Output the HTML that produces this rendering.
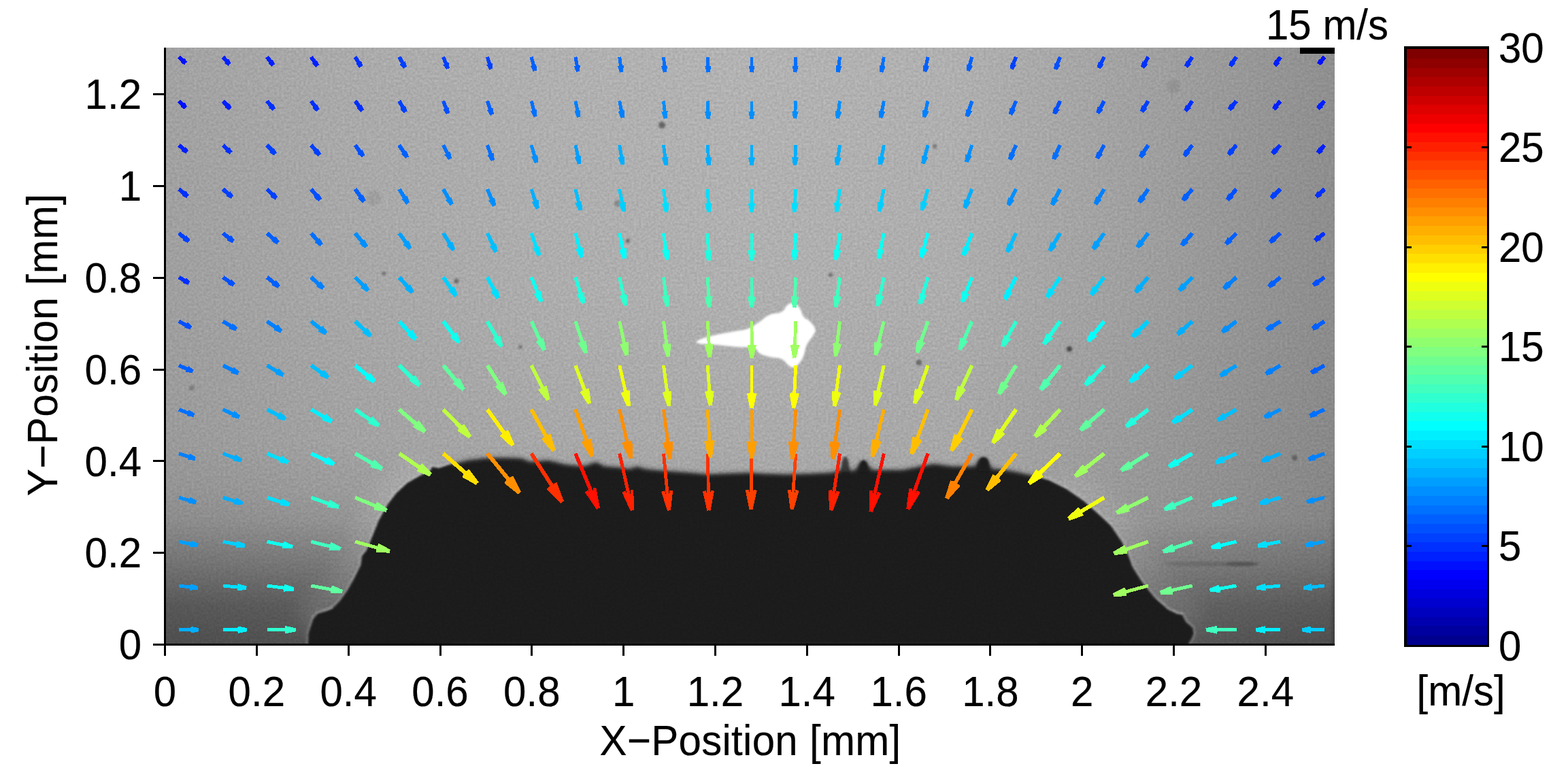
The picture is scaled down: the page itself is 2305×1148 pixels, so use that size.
<!DOCTYPE html>
<html lang="en"><head><meta charset="utf-8"><title>Velocity field</title>
<style>html,body{margin:0;padding:0;background:#fff}svg{display:block}text{font-family:"Liberation Sans",sans-serif;font-size:60px;fill:#000;stroke:#000;stroke-width:0.2px}</style>
</head><body>
<svg width="2305" height="1148" viewBox="0 0 2305 1148" role="img" aria-label="Velocity field over droplet image">
<defs>
<clipPath id="imclip"><rect x="244" y="70" width="1718" height="876"/></clipPath>
<filter id="blur3" x="-5%" y="-5%" width="110%" height="110%"><feGaussianBlur stdDeviation="3.2"/></filter>
<filter id="blur1" x="-50%" y="-100%" width="200%" height="300%"><feGaussianBlur stdDeviation="1.6"/></filter>
<filter id="blurS" x="-5%" y="-5%" width="110%" height="110%"><feGaussianBlur stdDeviation="1.5"/></filter>
<filter id="blur6" x="-50%" y="-50%" width="200%" height="200%"><feGaussianBlur stdDeviation="3"/></filter>
<filter id="grain" x="0" y="0" width="100%" height="100%" color-interpolation-filters="sRGB"><feTurbulence type="fractalNoise" baseFrequency="0.28" numOctaves="2" seed="11" result="t"/><feColorMatrix in="t" type="matrix" values="1 0 0 0 0  1 0 0 0 0  1 0 0 0 0  0 0 0 0 1" result="n"/><feComposite in="SourceGraphic" in2="n" operator="arithmetic" k1="0.2" k2="0.9" k3="0" k4="0"/></filter>
<linearGradient id="gH" x1="0" y1="0" x2="1" y2="0"><stop offset="0.0000" stop-color="#a2a2a2"/><stop offset="0.1490" stop-color="#aaaaaa"/><stop offset="0.3236" stop-color="#b0b0b0"/><stop offset="0.4983" stop-color="#b3b3b3"/><stop offset="0.6729" stop-color="#b0b0b0"/><stop offset="0.8475" stop-color="#a0a0a0"/><stop offset="1.0000" stop-color="#8f8f8f"/></linearGradient>
<linearGradient id="gV" x1="0" y1="0" x2="0" y2="1"><stop offset="0.0000" stop-color="#000" stop-opacity="0.000"/><stop offset="0.4224" stop-color="#000" stop-opacity="0.020"/><stop offset="0.6621" stop-color="#000" stop-opacity="0.050"/><stop offset="0.7420" stop-color="#000" stop-opacity="0.090"/><stop offset="0.7934" stop-color="#000" stop-opacity="0.140"/><stop offset="0.8676" stop-color="#000" stop-opacity="0.300"/><stop offset="0.9361" stop-color="#000" stop-opacity="0.460"/><stop offset="1.0000" stop-color="#000" stop-opacity="0.520"/></linearGradient>
<linearGradient id="gVR" x1="0" y1="0" x2="0" y2="1"><stop offset="0.0000" stop-color="#000" stop-opacity="0.000"/><stop offset="0.4224" stop-color="#000" stop-opacity="0.020"/><stop offset="0.6621" stop-color="#000" stop-opacity="0.050"/><stop offset="0.7420" stop-color="#000" stop-opacity="0.065"/><stop offset="0.7934" stop-color="#000" stop-opacity="0.080"/><stop offset="0.8676" stop-color="#000" stop-opacity="0.220"/><stop offset="0.9361" stop-color="#000" stop-opacity="0.380"/><stop offset="1.0000" stop-color="#000" stop-opacity="0.450"/></linearGradient>
</defs>
<rect x="0" y="0" width="2305" height="1148" fill="#fff"/>
<g clip-path="url(#imclip)">
<g filter="url(#grain)">
<rect x="244" y="70" width="1718" height="876" fill="url(#gH)"/>
<rect x="244" y="70" width="856" height="876" fill="url(#gV)"/>
<rect x="1100" y="70" width="862" height="876" fill="url(#gVR)"/>
<circle cx="973" cy="184" r="5" fill="#000" opacity="0.42" filter="url(#blur1)"/>
<circle cx="908" cy="299" r="5" fill="#000" opacity="0.22" filter="url(#blur1)"/>
<circle cx="564" cy="402" r="3" fill="#000" opacity="0.3" filter="url(#blur1)"/>
<circle cx="671" cy="413" r="3.5" fill="#000" opacity="0.38" filter="url(#blur1)"/>
<circle cx="282" cy="570" r="4" fill="#000" opacity="0.2" filter="url(#blur1)"/>
<circle cx="923" cy="354" r="3" fill="#000" opacity="0.4" filter="url(#blur1)"/>
<circle cx="1374" cy="215" r="3" fill="#000" opacity="0.35" filter="url(#blur1)"/>
<circle cx="1572" cy="513" r="4" fill="#000" opacity="0.55" filter="url(#blur1)"/>
<circle cx="1351" cy="533" r="4" fill="#000" opacity="0.4" filter="url(#blur1)"/>
<circle cx="1221" cy="404" r="3" fill="#000" opacity="0.35" filter="url(#blur1)"/>
<circle cx="1725" cy="127" r="10" fill="#000" opacity="0.07" filter="url(#blur1)"/>
<circle cx="549" cy="291" r="11" fill="#000" opacity="0.06" filter="url(#blur1)"/>
<circle cx="765" cy="510" r="3" fill="#000" opacity="0.3" filter="url(#blur1)"/>
<circle cx="1903" cy="673" r="4" fill="#000" opacity="0.3" filter="url(#blur1)"/>
<ellipse cx="1780" cy="829" rx="70" ry="3.5" fill="#000" opacity="0.12" filter="url(#blur1)"/>
<ellipse cx="1826" cy="829" rx="24" ry="3.5" fill="#000" opacity="0.18" filter="url(#blur1)"/>
<linearGradient id="gE" x1="0" y1="0" x2="0" y2="1"><stop offset="0" stop-color="#000" stop-opacity="0"/><stop offset="0.45" stop-color="#000" stop-opacity="0.16"/><stop offset="1" stop-color="#000" stop-opacity="0.2"/></linearGradient>
<rect x="1957.5" y="680" width="8" height="270" fill="url(#gE)" filter="url(#blur1)"/>
<clipPath id="cTop"><rect x="665" y="60" width="860" height="900"/></clipPath>
<clipPath id="cBot"><path d="M244,60 H665 V960 H244 Z M1525,60 H1962 V960 H1525 Z"/></clipPath>
<filter id="blurW" x="-60%" y="-60%" width="220%" height="220%"><feGaussianBlur stdDeviation="14"/></filter>
<path d="M610,705 L570,742 L547,791 L531,830 L510,870 L470,900" fill="none" stroke="#fff" stroke-width="60" stroke-linecap="round" opacity="0.10" filter="url(#blurW)"/>
<path d="M1580,728 L1620,760 L1649,796 L1665,833 L1696,877 L1735,902" fill="none" stroke="#fff" stroke-width="60" stroke-linecap="round" opacity="0.08" filter="url(#blurW)"/>
<path d="M453.0,950.0 L453.6,931.0 L461.4,907.3 L466.6,901.3 L478.4,898.2 L488.8,894.3 L499.3,883.8 L509.7,869.5 L520.2,851.2 L530.6,830.3 L532.0,817.2 L538.5,809.4 L546.3,791.1 L556.8,765.0 L569.8,741.4 L582.9,724.5 L598.6,710.1 L616.9,699.6 L632.5,691.8 L635.1,686.6 L645.6,687.9 L661.3,682.7 L687.4,676.1 L713.5,673.0 L739.6,672.2 L765.8,673.0 L780.0,678.6 L806.0,676.0 L832.0,682.5 L858.0,685.0 L876.0,678.6 L889.0,685.0 L910.0,686.4 L926.0,689.0 L936.0,685.0 L949.0,689.0 L975.0,691.6 L1014.0,694.2 L1040.0,696.8 L1066.0,695.5 L1105.0,694.2 L1118.0,695.5 L1157.0,696.8 L1196.0,695.5 L1222.0,694.2 L1236.0,691.0 L1239.0,678.0 L1242.0,672.0 L1246.0,678.0 L1249.0,691.0 L1256.0,691.6 L1264.0,680.0 L1269.0,677.3 L1275.0,681.0 L1282.0,690.3 L1327.0,690.3 L1353.0,685.0 L1373.0,681.2 L1399.0,685.0 L1433.0,685.0 L1438.0,676.0 L1446.0,672.0 L1454.0,680.0 L1459.0,689.0 L1469.0,689.0 L1490.0,692.4 L1516.0,698.0 L1542.0,706.0 L1568.0,719.0 L1594.0,737.0 L1620.0,760.6 L1633.0,772.8 L1649.0,796.3 L1659.0,817.2 L1664.5,833.0 L1677.6,853.8 L1696.0,877.3 L1716.8,895.6 L1729.8,902.0 L1737.7,903.4 L1743.0,913.9 L1753.3,923.0 L1754.6,932.0 L1750.7,940.0 L1745.0,950.0 Z" fill="none" stroke="#fff" stroke-width="7" opacity="0.17" filter="url(#blurS)"/>
<g clip-path="url(#cTop)"><path d="M453.0,950.0 L453.6,931.0 L461.4,907.3 L466.6,901.3 L478.4,898.2 L488.8,894.3 L499.3,883.8 L509.7,869.5 L520.2,851.2 L530.6,830.3 L532.0,817.2 L538.5,809.4 L546.3,791.1 L556.8,765.0 L569.8,741.4 L582.9,724.5 L598.6,710.1 L616.9,699.6 L632.5,691.8 L635.1,686.6 L645.6,687.9 L661.3,682.7 L687.4,676.1 L713.5,673.0 L739.6,672.2 L765.8,673.0 L780.0,678.6 L806.0,676.0 L832.0,682.5 L858.0,685.0 L876.0,678.6 L889.0,685.0 L910.0,686.4 L926.0,689.0 L936.0,685.0 L949.0,689.0 L975.0,691.6 L1014.0,694.2 L1040.0,696.8 L1066.0,695.5 L1105.0,694.2 L1118.0,695.5 L1157.0,696.8 L1196.0,695.5 L1222.0,694.2 L1236.0,691.0 L1239.0,678.0 L1242.0,672.0 L1246.0,678.0 L1249.0,691.0 L1256.0,691.6 L1264.0,680.0 L1269.0,677.3 L1275.0,681.0 L1282.0,690.3 L1327.0,690.3 L1353.0,685.0 L1373.0,681.2 L1399.0,685.0 L1433.0,685.0 L1438.0,676.0 L1446.0,672.0 L1454.0,680.0 L1459.0,689.0 L1469.0,689.0 L1490.0,692.4 L1516.0,698.0 L1542.0,706.0 L1568.0,719.0 L1594.0,737.0 L1620.0,760.6 L1633.0,772.8 L1649.0,796.3 L1659.0,817.2 L1664.5,833.0 L1677.6,853.8 L1696.0,877.3 L1716.8,895.6 L1729.8,902.0 L1737.7,903.4 L1743.0,913.9 L1753.3,923.0 L1754.6,932.0 L1750.7,940.0 L1745.0,950.0 Z" fill="#1a1a1a" filter="url(#blur3)"/></g>
<g clip-path="url(#cBot)"><path d="M453.0,950.0 L453.6,931.0 L461.4,907.3 L466.6,901.3 L478.4,898.2 L488.8,894.3 L499.3,883.8 L509.7,869.5 L520.2,851.2 L530.6,830.3 L532.0,817.2 L538.5,809.4 L546.3,791.1 L556.8,765.0 L569.8,741.4 L582.9,724.5 L598.6,710.1 L616.9,699.6 L632.5,691.8 L635.1,686.6 L645.6,687.9 L661.3,682.7 L687.4,676.1 L713.5,673.0 L739.6,672.2 L765.8,673.0 L780.0,678.6 L806.0,676.0 L832.0,682.5 L858.0,685.0 L876.0,678.6 L889.0,685.0 L910.0,686.4 L926.0,689.0 L936.0,685.0 L949.0,689.0 L975.0,691.6 L1014.0,694.2 L1040.0,696.8 L1066.0,695.5 L1105.0,694.2 L1118.0,695.5 L1157.0,696.8 L1196.0,695.5 L1222.0,694.2 L1236.0,691.0 L1239.0,678.0 L1242.0,672.0 L1246.0,678.0 L1249.0,691.0 L1256.0,691.6 L1264.0,680.0 L1269.0,677.3 L1275.0,681.0 L1282.0,690.3 L1327.0,690.3 L1353.0,685.0 L1373.0,681.2 L1399.0,685.0 L1433.0,685.0 L1438.0,676.0 L1446.0,672.0 L1454.0,680.0 L1459.0,689.0 L1469.0,689.0 L1490.0,692.4 L1516.0,698.0 L1542.0,706.0 L1568.0,719.0 L1594.0,737.0 L1620.0,760.6 L1633.0,772.8 L1649.0,796.3 L1659.0,817.2 L1664.5,833.0 L1677.6,853.8 L1696.0,877.3 L1716.8,895.6 L1729.8,902.0 L1737.7,903.4 L1743.0,913.9 L1753.3,923.0 L1754.6,932.0 L1750.7,940.0 L1745.0,950.0 Z" fill="#1a1a1a" filter="url(#blurS)"/></g>
<path d="M1438.5,692 L1439,678 Q1440,672.5 1446,672 Q1452,672.5 1453,678 L1453.5,692 Z" fill="#1a1a1a" filter="url(#blur1)"/>
<path d="M1264,693 L1264.5,682 Q1265.5,677 1269.5,676.5 Q1273.5,677 1274.5,682 L1275,693 Z" fill="#1a1a1a" filter="url(#blur1)"/>
<path d="M1238.5,693 L1239,677 Q1240,671.5 1242.5,671 Q1245.5,671.5 1246,677 L1246.5,693 Z" fill="#3a3a3a" opacity="0.85" filter="url(#blur1)"/>
<path d="M460,909 L467,901 L478,897.5 L489,893.5" fill="none" stroke="#fff" stroke-width="2" opacity="0.28" filter="url(#blur1)"/>
<path d="M1700,879 L1717,894.5 L1730,901 L1739,902.5" fill="none" stroke="#fff" stroke-width="2" opacity="0.25" filter="url(#blur1)"/>
</g>
<path d="M1026.7,501.0 C1031.5,498.3 1032.6,497.8 1047.1,494.2 C1061.6,490.6 1067.2,490.1 1081.1,487.4 C1095.0,484.7 1090.1,487.3 1099.2,484.0 C1108.3,480.7 1106.6,480.4 1115.1,475.0 C1123.6,469.6 1121.8,467.8 1130.9,463.6 C1140.0,459.4 1141.8,463.0 1149.1,459.1 C1156.4,455.2 1153.3,452.2 1158.1,448.9 C1162.9,445.6 1162.7,445.4 1167.2,446.6 C1171.7,447.8 1171.5,448.3 1175.1,453.4 C1178.7,458.5 1176.9,460.8 1180.8,465.9 C1184.7,471.0 1185.3,467.9 1189.8,472.7 C1194.3,477.5 1196.5,478.6 1197.7,484.0 C1198.9,489.4 1197.7,487.0 1194.4,493.1 C1191.1,499.2 1188.9,498.9 1185.3,506.7 C1181.7,514.5 1183.8,515.2 1180.8,522.5 C1177.8,529.8 1177.9,529.4 1174.0,533.9 C1170.1,538.4 1170.2,539.2 1166.0,539.5 C1161.8,539.8 1162.6,538.3 1158.1,535.0 C1153.6,531.7 1156.4,530.1 1149.1,527.1 C1141.8,524.1 1139.4,525.8 1130.9,523.7 C1122.4,521.6 1123.3,522.4 1117.3,519.1 C1111.3,515.8 1118.0,513.9 1108.3,511.2 C1098.6,508.5 1097.4,510.4 1081.1,508.9 C1064.8,507.4 1061.0,506.7 1047.1,505.5 C1033.2,504.3 1034.4,505.6 1029.0,504.4 C1023.6,503.2 1021.9,503.7 1026.7,501.0 Z" fill="#fff" stroke="#fff" stroke-width="1.5" stroke-linejoin="round" filter="url(#blur1)"/>
</g>
<g stroke="none" fill-rule="nonzero" shape-rendering="crispEdges">
<path fill="#00afff" d="M263.0,928.1L291.9,928.1L291.9,923.3L263.0,923.3ZM280.8,930.6L292.4,928.2L291.4,923.3L279.8,925.7ZM279.8,925.7L291.4,928.2L292.4,923.3L280.8,920.8Z"/>
<path fill="#00efff" d="M327.8,928.1L363.0,928.1L363.0,923.3L327.8,923.3ZM349.9,931.0L363.5,928.2L362.4,923.3L348.9,926.1ZM348.9,925.3L362.4,928.2L363.5,923.3L349.9,920.4Z"/>
<path fill="#30ffcf" d="M392.5,928.1L434.7,928.1L434.7,923.3L392.5,923.3ZM419.4,931.5L435.2,928.2L434.2,923.3L418.4,926.6ZM418.4,924.8L434.2,928.2L435.2,923.3L419.4,920.0Z"/>
<path fill="#40ffbf" d="M1817.5,923.3L1772.9,923.3L1772.9,928.1L1817.5,928.1ZM1788.9,919.8L1772.4,923.3L1773.4,928.2L1789.9,924.7ZM1789.9,926.7L1773.4,923.3L1772.4,928.2L1788.9,931.6Z"/>
<path fill="#00efff" d="M1882.2,923.3L1846.4,923.3L1846.4,928.1L1882.2,928.1ZM1859.7,920.4L1845.8,923.3L1846.9,928.2L1860.7,925.3ZM1860.7,926.2L1846.9,923.3L1845.8,928.2L1859.7,931.1Z"/>
<path fill="#00cfff" d="M1947.0,923.3L1914.3,923.3L1914.3,928.1L1947.0,928.1ZM1926.6,920.6L1913.8,923.3L1914.8,928.2L1927.6,925.5ZM1927.6,926.0L1914.8,923.3L1913.8,928.2L1926.6,930.8Z"/>
<path fill="#009fff" d="M262.7,863.4L290.5,866.8L291.1,861.9L263.3,858.5ZM279.5,867.7L291.0,866.8L290.6,861.9L279.1,862.9ZM279.0,863.1L289.9,866.8L291.6,861.9L280.7,858.1Z"/>
<path fill="#00dfff" d="M327.5,863.4L362.0,866.8L362.5,862.0L328.0,858.5ZM348.9,868.3L362.5,866.8L362.0,862.0L348.3,863.4ZM348.4,862.7L361.4,866.9L363.0,861.9L349.9,857.8Z"/>
<path fill="#10ffef" d="M392.2,863.4L431.5,868.5L432.2,863.7L392.9,858.5ZM416.8,869.7L432.0,868.5L431.7,863.7L416.4,864.9ZM416.5,863.5L431.0,868.6L432.7,863.6L418.3,858.6Z"/>
<path fill="#60ff9f" d="M456.9,863.4L502.8,872.0L503.7,867.2L457.8,858.5ZM485.7,872.4L503.3,872.0L503.2,867.2L485.6,867.6ZM486.0,865.3L502.2,872.1L504.3,867.1L488.0,860.4Z"/>
<path fill="#9fff60" d="M1687.3,858.5L1636.2,872.3L1637.5,877.2L1688.6,863.4ZM1653.0,863.4L1635.6,872.3L1638.1,877.3L1655.6,868.4ZM1656.3,871.2L1636.7,872.4L1637.0,877.2L1656.5,876.1Z"/>
<path fill="#70ff8f" d="M1752.2,858.5L1705.2,868.9L1706.3,873.8L1753.3,863.4ZM1721.1,861.4L1704.6,868.8L1706.9,873.8L1723.3,866.4ZM1723.8,868.7L1705.7,868.9L1705.8,873.7L1723.8,873.5Z"/>
<path fill="#10ffef" d="M1817.1,858.5L1778.1,865.4L1779.0,870.3L1817.9,863.4ZM1791.7,859.6L1777.5,865.3L1779.5,870.3L1793.7,864.6ZM1793.9,865.9L1778.6,865.4L1778.5,870.2L1793.7,870.7Z"/>
<path fill="#00dfff" d="M1882.0,858.5L1847.2,862.0L1847.7,866.8L1882.5,863.4ZM1859.8,857.8L1846.7,861.9L1848.2,866.9L1861.4,862.7ZM1861.4,863.5L1847.7,862.0L1847.2,866.8L1860.9,868.3Z"/>
<path fill="#00bfff" d="M1946.8,858.5L1916.2,861.9L1916.7,866.8L1947.3,863.4ZM1927.4,858.0L1915.6,861.9L1917.2,866.8L1929.1,862.9ZM1929.1,863.1L1916.7,862.0L1916.2,866.8L1928.6,868.0Z"/>
<path fill="#009fff" d="M262.5,798.6L290.2,804.0L291.2,799.1L263.5,793.7ZM279.1,804.1L290.7,804.0L290.6,799.2L279.0,799.3ZM278.9,799.5L289.6,804.0L291.7,799.1L281.0,794.5Z"/>
<path fill="#00cfff" d="M327.3,798.6L359.2,804.7L360.1,799.8L328.2,793.7ZM346.7,804.9L359.7,804.7L359.6,799.9L346.6,800.1ZM346.6,799.8L358.6,804.8L360.7,799.8L348.7,794.8Z"/>
<path fill="#10ffef" d="M392.0,798.6L429.5,806.5L430.6,801.6L393.1,793.7ZM415.2,806.4L430.0,806.5L430.0,801.7L415.2,801.6ZM415.3,800.6L428.9,806.5L431.1,801.6L417.5,795.6Z"/>
<path fill="#40ffbf" d="M456.7,798.6L499.8,809.3L501.0,804.4L457.9,793.7ZM483.5,808.7L500.3,809.3L500.5,804.5L483.7,803.9ZM484.0,802.0L499.2,809.4L501.6,804.4L486.5,797.0Z"/>
<path fill="#9fff60" d="M521.4,798.6L572.2,812.8L573.5,807.9L522.8,793.7ZM553.2,811.5L572.7,812.8L573.0,807.9L553.5,806.7ZM554.2,803.8L571.6,812.8L574.1,807.9L556.8,798.9Z"/>
<path fill="#9fff60" d="M1687.1,793.7L1636.7,811.3L1638.4,816.3L1688.8,798.7ZM1653.0,801.1L1636.1,811.3L1639.1,816.2L1655.9,806.0ZM1656.8,808.8L1637.3,811.4L1637.9,816.2L1657.5,813.7Z"/>
<path fill="#50ffaf" d="M1751.8,793.7L1709.1,808.5L1710.9,813.5L1753.6,798.7ZM1723.2,799.7L1708.5,808.5L1711.5,813.5L1726.1,804.6ZM1726.7,806.4L1709.7,808.6L1710.3,813.4L1727.3,811.2Z"/>
<path fill="#00ffff" d="M1816.9,793.7L1780.1,802.6L1781.3,807.5L1818.1,798.6ZM1792.8,796.2L1779.5,802.6L1781.9,807.5L1795.2,801.2ZM1795.4,802.2L1780.6,802.7L1780.8,807.5L1795.5,807.0Z"/>
<path fill="#00dfff" d="M1881.8,793.7L1848.8,799.9L1849.7,804.7L1882.7,798.6ZM1860.6,794.7L1848.3,799.8L1850.3,804.8L1862.7,799.7ZM1862.7,800.2L1849.3,799.9L1849.2,804.7L1862.6,805.0Z"/>
<path fill="#009fff" d="M1946.6,793.7L1918.5,799.1L1919.5,804.0L1947.5,798.6ZM1928.8,794.5L1917.9,799.1L1920.0,804.1L1930.9,799.5ZM1930.8,799.4L1919.0,799.2L1918.9,804.0L1930.7,804.2Z"/>
<path fill="#008fff" d="M262.3,733.9L287.4,740.8L288.8,735.9L263.7,728.9ZM277.0,740.1L287.9,740.8L288.2,735.9L277.3,735.3ZM277.1,735.8L286.8,740.8L289.4,735.9L279.6,730.8Z"/>
<path fill="#00afff" d="M327.0,733.9L355.9,742.5L357.4,737.6L328.5,728.9ZM344.2,741.4L356.4,742.5L356.8,737.6L344.6,736.6ZM344.5,736.7L355.3,742.5L358.0,737.6L347.2,731.7Z"/>
<path fill="#00dfff" d="M391.8,733.9L424.9,744.3L426.4,739.4L393.3,728.9ZM411.7,742.9L425.4,744.3L425.9,739.5L412.2,738.1ZM412.3,737.6L424.3,744.3L427.0,739.4L415.1,732.6Z"/>
<path fill="#30ffcf" d="M456.4,733.9L497.0,748.0L498.7,743.0L458.2,728.9ZM481.3,745.8L497.6,747.9L498.2,743.1L481.9,741.0ZM482.4,739.5L496.4,747.9L499.4,743.0L485.3,734.6Z"/>
<path fill="#80ff80" d="M521.1,733.9L567.2,752.9L569.2,747.9L523.1,728.9ZM549.5,749.4L567.8,752.8L568.7,747.9L550.4,744.5ZM551.2,742.3L566.6,752.8L569.9,748.0L554.5,737.5Z"/>
<path fill="#efff10" d="M1621.7,728.9L1569.4,760.3L1572.3,765.3L1624.6,733.9ZM1585.1,745.5L1568.8,760.6L1572.9,765.0L1589.2,749.9ZM1591.0,753.0L1570.0,760.3L1571.7,765.3L1592.7,758.0Z"/>
<path fill="#8fff70" d="M1686.7,728.9L1640.3,751.7L1642.7,756.6L1689.2,733.9ZM1654.8,740.0L1639.7,751.8L1643.3,756.5L1658.5,744.7ZM1659.5,747.0L1640.9,751.7L1642.1,756.6L1660.7,751.9Z"/>
<path fill="#40ffbf" d="M1751.6,728.9L1710.7,746.5L1712.9,751.4L1753.8,733.9ZM1723.9,736.9L1710.1,746.6L1713.5,751.3L1727.3,741.6ZM1727.9,743.2L1711.3,746.5L1712.3,751.4L1728.9,748.1Z"/>
<path fill="#00ffff" d="M1816.7,728.9L1781.4,740.1L1783.0,745.1L1818.3,733.9ZM1793.4,733.0L1780.8,740.1L1783.6,745.1L1796.2,738.0ZM1796.4,738.7L1782.0,740.2L1782.5,745.0L1796.9,743.6Z"/>
<path fill="#00bfff" d="M1881.6,728.9L1851.6,737.3L1853.0,742.2L1882.9,733.9ZM1862.1,731.5L1851.0,737.3L1853.6,742.3L1864.7,736.5ZM1864.7,736.5L1852.1,737.4L1852.4,742.2L1865.0,741.4Z"/>
<path fill="#008fff" d="M1946.4,728.9L1920.2,735.6L1921.5,740.5L1947.6,733.9ZM1929.7,730.6L1919.6,735.6L1922.1,740.5L1932.2,735.6ZM1932.0,735.2L1920.8,735.7L1921.0,740.5L1932.2,740.0Z"/>
<path fill="#0080ff" d="M262.2,669.1L286.1,677.0L287.7,672.0L263.8,664.1ZM276.0,675.7L286.6,676.9L287.2,672.1L276.6,670.9ZM276.3,671.6L285.5,677.0L288.3,672.0L279.1,666.7Z"/>
<path fill="#00afff" d="M326.8,669.1L353.8,679.3L355.6,674.3L328.7,664.1ZM342.6,677.4L354.3,679.3L355.1,674.4L343.4,672.6ZM343.2,672.9L353.1,679.3L356.3,674.4L346.3,668.0Z"/>
<path fill="#00dfff" d="M391.5,669.1L422.7,682.2L424.8,677.2L393.6,664.1ZM410.0,679.6L423.2,682.1L424.2,677.2L411.0,674.7ZM411.0,674.5L422.0,682.1L425.4,677.3L414.3,669.6Z"/>
<path fill="#00ffff" d="M456.1,669.1L490.2,685.0L492.5,680.0L458.5,664.1ZM476.5,681.6L490.7,685.0L491.9,680.1L477.6,676.7ZM477.8,676.1L489.5,684.9L493.1,680.2L481.4,671.4Z"/>
<path fill="#50ffaf" d="M520.7,669.1L560.1,691.8L562.9,686.9L523.5,664.2ZM544.3,686.5L560.7,691.8L562.3,686.8L546.0,681.5ZM546.7,680.1L559.5,691.6L563.5,687.1L550.7,675.6Z"/>
<path fill="#afff50" d="M585.2,669.0L631.2,700.4L634.5,695.6L588.5,664.2ZM612.9,692.7L631.8,700.5L633.9,695.5L614.9,687.7ZM616.5,685.3L630.7,700.1L635.0,695.9L620.8,681.1Z"/>
<path fill="#ffdf00" d="M649.6,668.9L699.4,712.7L703.4,708.2L653.6,664.4ZM679.2,701.2L700.0,713.0L702.8,708.0L682.0,696.2ZM684.7,693.1L699.0,712.3L703.8,708.7L689.5,689.6Z"/>
<path fill="#ff8f00" d="M714.1,668.5L761.4,726.3L766.0,722.5L718.7,664.7ZM741.1,710.1L761.9,726.7L765.6,722.1L744.9,705.4ZM749.0,702.1L761.3,725.7L766.2,723.1L754.0,699.5Z"/>
<path fill="#ff3000" d="M778.7,668.2L824.0,739.3L828.9,736.2L783.6,665.1ZM803.6,718.6L824.3,739.8L828.6,735.6L807.9,714.4ZM813.5,710.9L824.0,738.7L829.0,736.8L818.5,709.0Z"/>
<path fill="#ff1000" d="M843.4,667.7L877.0,748.3L882.0,746.2L848.4,665.6ZM859.8,723.6L877.1,748.9L881.9,745.6L864.6,720.3ZM871.4,717.6L877.1,747.7L882.0,746.8L876.2,716.7Z"/>
<path fill="#ff2000" d="M908.3,667.2L927.0,750.7L931.9,749.6L913.1,666.1ZM914.5,723.9L926.9,751.3L931.9,749.0L919.4,721.6ZM926.6,720.1L927.0,750.2L931.8,750.1L931.4,720.0Z"/>
<path fill="#ff3000" d="M973.1,666.9L981.1,750.5L985.9,750.0L977.9,666.4ZM972.2,722.8L981.0,751.0L985.9,749.5L977.1,721.2ZM984.4,720.6L981.1,750.0L985.9,750.5L989.2,721.1Z"/>
<path fill="#ff3000" d="M1037.8,666.7L1039.6,750.3L1044.4,750.2L1042.6,666.6ZM1032.9,722.1L1039.5,750.8L1044.4,749.7L1037.8,721.0ZM1045.0,720.8L1039.5,749.8L1044.4,750.7L1049.9,721.7Z"/>
<path fill="#ff4000" d="M1102.6,666.6L1101.6,748.5L1106.4,748.5L1107.4,666.7ZM1095.9,720.6L1101.5,749.0L1106.4,748.0L1100.8,719.7ZM1107.8,719.7L1101.5,748.0L1106.4,749.1L1112.7,720.8Z"/>
<path fill="#ff4000" d="M1167.4,666.5L1161.8,748.3L1166.6,748.7L1172.2,666.8ZM1157.8,720.2L1161.8,748.8L1166.6,748.2L1162.6,719.5ZM1169.6,719.9L1161.7,747.8L1166.7,749.2L1174.5,721.3Z"/>
<path fill="#ff2000" d="M1232.1,666.3L1219.3,749.8L1224.1,750.6L1237.0,667.0ZM1217.7,720.6L1219.3,750.3L1224.1,750.1L1222.5,720.4ZM1229.7,721.4L1219.2,749.3L1224.2,751.2L1234.7,723.3Z"/>
<path fill="#ff1000" d="M1296.9,666.1L1277.4,751.4L1282.3,752.5L1301.8,667.2ZM1278.0,721.2L1277.5,751.9L1282.3,752.0L1282.8,721.3ZM1290.2,722.9L1277.4,750.8L1282.4,753.1L1295.2,725.2Z"/>
<path fill="#ff1000" d="M1361.6,665.7L1332.1,747.5L1337.1,749.2L1366.6,667.5ZM1336.4,717.8L1332.2,748.0L1337.1,748.7L1341.3,718.5ZM1348.2,720.9L1332.2,746.8L1337.1,749.9L1353.1,723.9Z"/>
<path fill="#ff8000" d="M1426.4,665.2L1389.1,731.1L1394.0,733.9L1431.3,668.0ZM1397.2,706.1L1389.0,731.7L1394.0,733.3L1402.2,707.7ZM1407.1,710.4L1389.3,730.6L1393.8,734.5L1411.6,714.3Z"/>
<path fill="#ffbf00" d="M1491.3,664.8L1448.5,718.4L1453.1,722.1L1496.0,668.5ZM1459.4,697.0L1448.3,719.0L1453.3,721.5L1464.4,699.5ZM1467.9,702.3L1448.9,718.0L1452.7,722.6L1471.7,706.9Z"/>
<path fill="#ffff00" d="M1556.3,664.5L1510.7,708.5L1514.8,712.8L1560.5,668.8ZM1523.2,690.0L1510.3,709.0L1515.2,712.3L1528.1,693.3ZM1530.7,696.0L1511.2,708.2L1514.3,713.1L1533.7,700.9Z"/>
<path fill="#9fff60" d="M1621.3,664.3L1578.8,697.9L1582.5,702.5L1625.0,669.0ZM1591.2,682.9L1578.4,698.3L1582.9,702.1L1595.7,686.8ZM1597.3,688.8L1579.4,697.7L1581.9,702.7L1599.8,693.8Z"/>
<path fill="#60ff9f" d="M1686.4,664.2L1647.0,689.1L1650.0,694.0L1689.5,669.1ZM1659.0,677.2L1646.4,689.4L1650.6,693.7L1663.2,681.5ZM1664.0,682.9L1647.6,689.1L1649.4,694.0L1665.9,687.9Z"/>
<path fill="#10ffef" d="M1751.3,664.2L1716.9,683.7L1719.7,688.6L1754.1,669.1ZM1727.8,673.8L1716.4,683.9L1720.3,688.4L1731.8,678.3ZM1732.1,679.0L1717.5,683.7L1719.1,688.6L1733.7,684.0Z"/>
<path fill="#00cfff" d="M1816.4,664.1L1786.3,677.6L1788.5,682.6L1818.6,669.1ZM1796.3,670.0L1785.7,677.7L1789.1,682.5L1799.8,674.8ZM1799.7,674.9L1786.9,677.7L1787.9,682.6L1800.8,679.8Z"/>
<path fill="#00afff" d="M1881.2,664.1L1854.3,675.4L1856.4,680.4L1883.3,669.1ZM1863.5,668.7L1853.7,675.5L1857.0,680.3L1866.9,673.5ZM1866.6,673.2L1854.9,675.5L1855.8,680.4L1867.6,678.1Z"/>
<path fill="#0080ff" d="M1946.1,664.1L1922.9,673.1L1924.9,678.1L1948.0,669.1ZM1931.2,667.4L1922.3,673.1L1925.5,678.0L1934.3,672.3ZM1933.9,671.4L1923.5,673.1L1924.3,678.0L1934.7,676.3Z"/>
<path fill="#0070ff" d="M262.0,604.4L284.0,613.1L286.0,608.1L264.0,599.4ZM274.5,611.3L284.6,613.0L285.4,608.2L275.4,606.4ZM274.9,607.4L283.4,613.0L286.6,608.2L278.1,602.6Z"/>
<path fill="#008fff" d="M326.6,604.4L350.5,615.7L352.9,610.7L329.0,599.4ZM340.3,613.1L351.1,615.7L352.3,610.8L341.5,608.2ZM341.1,608.9L349.9,615.6L353.5,610.9L344.7,604.2Z"/>
<path fill="#00bfff" d="M391.2,604.3L418.3,618.5L420.9,613.5L393.8,599.4ZM407.0,615.1L418.9,618.5L420.3,613.5L408.4,610.2ZM408.1,610.4L417.7,618.3L421.5,613.7L411.9,605.8Z"/>
<path fill="#00efff" d="M455.9,604.3L486.2,622.1L489.0,617.1L458.8,599.4ZM473.6,617.7L486.8,622.1L488.4,617.1L475.3,612.7ZM475.3,612.5L485.6,621.8L489.6,617.4L479.4,608.1Z"/>
<path fill="#30ffcf" d="M520.4,604.3L555.1,628.2L558.5,623.4L523.7,599.5ZM540.9,622.1L555.8,628.3L557.8,623.3L543.0,617.1ZM543.5,616.2L554.6,627.9L559.0,623.7L547.9,612.0Z"/>
<path fill="#80ff80" d="M584.9,604.1L622.8,636.8L626.7,632.3L588.8,599.6ZM607.1,628.0L623.4,637.0L626.2,632.1L609.8,623.1ZM611.1,621.5L622.4,636.4L627.1,632.8L615.8,617.9Z"/>
<path fill="#bfff40" d="M649.5,604.0L688.8,644.3L693.1,640.1L653.8,599.8ZM672.1,633.1L689.3,644.6L692.6,639.8L675.4,628.3ZM677.4,626.3L688.5,643.8L693.4,640.7L682.3,623.2Z"/>
<path fill="#ffef00" d="M714.0,603.6L751.6,656.2L756.4,652.8L718.8,600.2ZM734.8,640.9L752.0,656.7L756.0,652.3L738.8,636.4ZM742.1,634.2L751.5,655.6L756.5,653.4L747.1,632.0Z"/>
<path fill="#ffbf00" d="M778.7,603.2L811.8,663.9L816.8,661.2L783.6,600.5ZM795.9,645.6L812.1,664.5L816.6,660.6L800.5,641.7ZM804.7,639.5L811.9,663.3L816.8,661.8L809.6,638.0Z"/>
<path fill="#ff9f00" d="M843.4,602.8L868.4,671.6L873.3,669.8L848.4,601.0ZM854.7,650.0L868.4,672.2L873.3,669.2L859.6,647.0ZM864.8,645.2L868.4,671.0L873.3,670.3L869.6,644.5Z"/>
<path fill="#ff8f00" d="M908.2,602.4L925.2,674.5L930.1,673.3L913.2,601.3ZM914.0,651.2L925.2,675.1L930.2,672.7L919.0,648.9ZM924.6,647.6L925.3,674.0L930.1,673.8L929.4,647.5Z"/>
<path fill="#ff8f00" d="M973.1,602.2L982.8,675.3L987.6,674.7L977.9,601.5ZM974.0,651.1L982.7,675.9L987.7,674.1L978.9,649.3ZM984.8,648.6L982.8,674.8L987.6,675.2L989.6,649.0Z"/>
<path fill="#ffaf00" d="M1037.8,602.0L1042.0,672.7L1046.8,672.4L1042.6,601.7ZM1035.3,648.8L1042.0,673.3L1046.9,671.9L1040.2,647.4ZM1045.7,647.1L1042.0,672.2L1046.8,672.9L1050.6,647.9Z"/>
<path fill="#ff9f00" d="M1102.6,601.9L1102.6,674.0L1107.4,674.0L1107.4,601.9ZM1097.3,649.3L1102.6,674.5L1107.5,673.5L1102.2,648.3ZM1107.9,648.3L1102.6,673.5L1107.5,674.5L1112.7,649.3Z"/>
<path fill="#ff8f00" d="M1167.4,601.7L1162.5,674.9L1167.3,675.2L1172.2,602.0ZM1158.8,649.5L1162.5,675.4L1167.3,674.7L1163.7,648.8ZM1169.5,649.1L1162.4,674.3L1167.4,675.7L1174.4,650.5Z"/>
<path fill="#ff8f00" d="M1232.1,601.5L1221.7,674.7L1226.6,675.3L1237.0,602.2ZM1220.0,648.9L1221.7,675.2L1226.5,674.8L1224.8,648.6ZM1230.6,649.3L1221.6,674.1L1226.6,675.9L1235.6,651.2Z"/>
<path fill="#ffaf00" d="M1296.9,601.3L1279.9,670.9L1284.8,672.1L1301.8,602.5ZM1280.8,645.8L1279.9,671.4L1284.7,671.5L1285.6,645.9ZM1290.9,647.2L1279.8,670.3L1284.8,672.7L1295.9,649.5Z"/>
<path fill="#ffbf00" d="M1361.6,600.9L1337.4,666.3L1342.4,668.1L1366.6,602.8ZM1341.1,642.1L1337.4,666.8L1342.3,667.6L1346.0,642.8ZM1350.7,644.5L1337.4,665.7L1342.3,668.7L1355.6,647.6Z"/>
<path fill="#ffcf00" d="M1426.4,600.6L1396.0,661.3L1400.9,663.8L1431.3,603.1ZM1402.2,638.3L1396.0,661.9L1400.9,663.2L1407.1,639.6ZM1411.3,641.6L1396.1,660.7L1400.8,664.4L1416.0,645.3Z"/>
<path fill="#dfff20" d="M1491.2,600.2L1457.1,649.3L1461.9,652.7L1496.0,603.5ZM1465.5,629.8L1457.0,649.9L1462.0,652.0L1470.5,632.0ZM1473.3,633.8L1457.4,648.8L1461.5,653.2L1477.4,638.2Z"/>
<path fill="#afff50" d="M1556.2,599.8L1519.3,640.0L1523.7,644.1L1560.6,603.9ZM1529.3,623.3L1519.0,640.6L1523.9,643.5L1534.2,626.2ZM1536.1,627.9L1519.8,639.6L1523.2,644.4L1539.5,632.7Z"/>
<path fill="#60ff9f" d="M1621.2,599.6L1586.4,630.0L1590.3,634.5L1625.1,604.1ZM1596.5,616.6L1586.0,630.5L1590.7,634.1L1601.2,620.1ZM1602.2,621.3L1586.9,629.8L1589.7,634.8L1604.9,626.2Z"/>
<path fill="#20ffdf" d="M1686.1,599.5L1653.9,624.5L1657.5,629.2L1689.8,604.2ZM1663.6,613.0L1653.4,625.0L1658.0,628.8L1668.1,616.9ZM1668.6,617.5L1654.5,624.4L1656.9,629.4L1671.0,622.5Z"/>
<path fill="#00dfff" d="M1751.1,599.4L1722.2,619.0L1725.5,623.8L1754.3,604.3ZM1731.3,609.4L1721.7,619.3L1726.0,623.5L1735.6,613.6ZM1735.6,613.7L1722.8,618.9L1724.9,623.9L1737.6,618.7Z"/>
<path fill="#00bfff" d="M1816.0,599.4L1788.6,615.4L1791.5,620.3L1818.9,604.3ZM1797.5,607.1L1788.1,615.6L1792.1,620.1L1801.6,611.5ZM1801.4,611.3L1789.3,615.4L1790.9,620.3L1803.0,616.3Z"/>
<path fill="#008fff" d="M1881.0,599.4L1857.8,610.9L1860.3,615.8L1883.5,604.4ZM1865.8,604.3L1857.2,611.0L1860.9,615.7L1869.4,608.9ZM1868.9,608.2L1858.4,610.9L1859.7,615.8L1870.2,613.1Z"/>
<path fill="#0070ff" d="M1945.9,599.4L1924.7,609.2L1927.0,614.2L1948.2,604.4ZM1932.1,603.3L1924.1,609.3L1927.6,614.0L1935.7,608.0ZM1935.1,607.0L1925.3,609.2L1926.4,614.1L1936.2,611.9Z"/>
<path fill="#0060ff" d="M261.9,539.6L282.0,548.6L284.3,543.6L264.1,534.6ZM273.2,546.5L282.6,548.5L283.7,543.6L274.2,541.6ZM273.6,542.8L281.4,548.5L284.9,543.7L277.0,538.0Z"/>
<path fill="#0080ff" d="M326.5,539.6L348.9,551.2L351.5,546.2L329.1,534.6ZM339.2,548.3L349.5,551.2L350.9,546.3L340.6,543.4ZM340.1,544.3L348.3,551.0L352.1,546.4L343.8,539.7Z"/>
<path fill="#009fff" d="M391.1,539.5L414.8,553.8L417.7,548.9L394.0,534.6ZM404.5,550.1L415.4,553.9L417.1,548.9L406.3,545.1ZM405.8,545.8L414.2,553.6L418.3,549.2L409.9,541.4Z"/>
<path fill="#00bfff" d="M455.6,539.5L480.7,557.2L484.1,552.5L459.0,534.7ZM469.9,552.4L481.3,557.4L483.5,552.4L472.1,547.4ZM471.7,547.8L480.2,556.9L484.6,552.8L476.1,543.7Z"/>
<path fill="#00ffff" d="M520.2,539.4L548.7,563.3L552.5,558.8L524.0,534.8ZM536.4,556.7L549.2,563.5L551.9,558.6L539.1,551.7ZM539.3,551.4L548.2,562.9L552.9,559.2L543.9,547.8Z"/>
<path fill="#30ffcf" d="M584.8,539.2L614.9,568.7L619.1,564.4L588.9,534.9ZM601.8,560.3L615.4,569.0L618.5,564.1L604.9,555.4ZM605.6,554.8L614.6,568.1L619.4,564.9L610.4,551.5Z"/>
<path fill="#60ff9f" d="M649.3,539.0L679.3,574.5L683.8,570.7L653.9,535.2ZM665.9,564.1L679.7,574.9L683.4,570.3L669.6,559.5ZM670.8,558.5L679.1,573.9L684.0,571.3L675.7,555.8Z"/>
<path fill="#80ff80" d="M714.0,538.6L741.1,581.2L746.0,578.1L718.8,535.5ZM728.3,568.3L741.4,581.7L745.7,577.5L732.6,564.1ZM734.4,563.0L741.1,580.6L746.1,578.7L739.4,561.1Z"/>
<path fill="#bfff40" d="M778.7,538.3L803.8,588.9L808.8,586.5L783.7,535.9ZM791.1,573.3L804.0,589.5L808.7,585.9L795.8,569.6ZM798.7,568.3L803.9,588.3L808.8,587.1L803.6,567.0Z"/>
<path fill="#dfff20" d="M843.4,538.0L864.2,593.9L869.2,592.1L848.4,536.2ZM852.6,576.1L864.2,594.6L869.1,591.5L857.5,573.1ZM861.0,571.9L864.2,593.4L869.1,592.7L865.9,571.1Z"/>
<path fill="#efff10" d="M908.3,537.6L921.8,597.2L926.7,596.0L913.1,536.5ZM912.5,577.6L921.7,597.7L926.7,595.5L917.4,575.3ZM921.5,574.4L921.8,596.6L926.6,596.6L926.3,574.4Z"/>
<path fill="#dfff20" d="M973.1,537.4L981.0,597.0L985.9,596.3L977.9,536.8ZM973.7,576.9L981.0,597.5L985.9,595.8L978.6,575.1ZM982.7,574.6L981.0,596.5L985.9,596.8L987.5,575.0Z"/>
<path fill="#dfff20" d="M1037.8,537.3L1042.0,596.1L1046.8,595.8L1042.6,536.9ZM1036.0,575.9L1041.9,596.7L1046.9,595.3L1041.0,574.5ZM1044.9,574.3L1042.0,595.6L1046.8,596.3L1049.8,574.9Z"/>
<path fill="#ffff00" d="M1102.6,537.1L1102.6,600.2L1107.4,600.2L1107.4,537.1ZM1097.9,578.3L1102.6,600.7L1107.5,599.6L1102.8,577.3ZM1107.3,577.3L1102.6,599.6L1107.5,600.7L1112.2,578.3Z"/>
<path fill="#ffff00" d="M1167.4,537.0L1164.2,600.0L1169.1,600.3L1172.2,537.2ZM1160.6,577.9L1164.2,600.5L1169.1,599.8L1165.5,577.2ZM1170.0,577.4L1164.2,599.5L1169.1,600.8L1174.9,578.7Z"/>
<path fill="#efff10" d="M1232.1,536.8L1224.1,597.0L1229.0,597.7L1237.0,537.4ZM1222.5,575.5L1224.2,597.5L1229.0,597.2L1227.3,575.1ZM1231.4,575.6L1224.1,596.5L1229.0,598.2L1236.4,577.4Z"/>
<path fill="#dfff20" d="M1296.9,536.5L1283.7,595.4L1288.6,596.4L1301.8,537.6ZM1284.0,573.9L1283.8,595.9L1288.6,595.9L1288.8,574.0ZM1292.8,574.8L1283.7,594.8L1288.6,597.0L1297.7,577.1Z"/>
<path fill="#dfff20" d="M1361.6,536.2L1341.9,592.2L1346.9,593.9L1366.6,538.0ZM1344.8,571.3L1342.0,592.7L1346.8,593.3L1349.6,571.9ZM1353.2,573.0L1341.9,591.5L1346.8,594.5L1358.1,576.0Z"/>
<path fill="#bfff40" d="M1426.4,535.9L1402.9,586.6L1407.9,588.9L1431.4,538.2ZM1407.6,567.2L1403.0,587.2L1407.9,588.3L1412.5,568.3ZM1415.3,569.5L1403.0,586.0L1407.8,589.5L1420.0,573.0Z"/>
<path fill="#70ff8f" d="M1491.2,535.6L1465.7,577.4L1470.6,580.4L1496.1,538.6ZM1471.8,560.8L1465.7,578.1L1470.6,579.8L1476.8,562.5ZM1478.5,563.5L1466.0,576.9L1470.3,581.0L1482.9,567.6Z"/>
<path fill="#50ffaf" d="M1556.1,535.2L1527.2,571.2L1531.8,575.0L1560.7,539.0ZM1534.9,556.3L1527.0,571.8L1532.0,574.4L1539.8,558.8ZM1541.1,559.7L1527.6,570.8L1531.4,575.4L1544.8,564.4Z"/>
<path fill="#20ffdf" d="M1621.0,535.0L1593.4,563.8L1597.7,567.9L1625.3,539.2ZM1601.3,551.3L1593.1,564.3L1598.0,567.4L1606.1,554.3ZM1606.6,554.8L1593.9,563.5L1597.2,568.3L1609.9,559.6Z"/>
<path fill="#00efff" d="M1685.9,534.9L1659.2,559.3L1663.2,563.7L1690.0,539.3ZM1667.1,548.2L1658.8,559.8L1663.6,563.2L1671.9,551.7ZM1672.0,551.8L1659.8,559.0L1662.7,563.9L1674.9,556.7Z"/>
<path fill="#00cfff" d="M1750.9,534.7L1724.7,554.5L1728.2,559.2L1754.5,539.5ZM1732.9,545.0L1724.2,554.9L1728.7,558.8L1737.4,548.9ZM1737.2,548.8L1725.3,554.3L1727.6,559.3L1739.5,553.8Z"/>
<path fill="#009fff" d="M1815.9,534.7L1792.2,550.1L1795.4,554.9L1819.1,539.5ZM1799.9,542.2L1791.7,550.4L1795.9,554.6L1804.2,546.4ZM1803.7,545.8L1792.8,550.0L1794.8,555.0L1805.6,550.8Z"/>
<path fill="#0080ff" d="M1880.8,534.6L1859.5,547.3L1862.4,552.3L1883.7,539.6ZM1866.7,540.5L1858.9,547.6L1863.0,552.0L1870.7,544.9ZM1870.1,543.9L1860.1,547.3L1861.8,552.3L1871.8,548.9Z"/>
<path fill="#0060ff" d="M1945.6,534.6L1926.4,545.6L1929.2,550.6L1948.4,539.6ZM1933.0,539.4L1925.8,545.9L1929.8,550.3L1937.0,543.9ZM1936.2,542.6L1927.0,545.6L1928.6,550.6L1937.8,547.6Z"/>
<path fill="#0050ff" d="M261.7,474.8L279.2,484.3L281.9,479.3L264.3,469.8ZM271.2,481.7L279.8,484.3L281.2,479.3L272.7,476.8ZM271.7,478.3L278.6,484.1L282.4,479.5L275.6,473.7Z"/>
<path fill="#0070ff" d="M326.3,474.8L345.8,486.6L348.8,481.7L329.3,469.9ZM337.1,483.4L346.4,486.6L348.1,481.7L338.8,478.4ZM338.0,479.6L345.2,486.3L349.3,482.0L342.1,475.2Z"/>
<path fill="#0080ff" d="M390.9,474.7L411.7,489.2L415.0,484.4L394.2,469.9ZM402.4,485.1L412.3,489.3L414.4,484.3L404.5,480.1ZM403.8,481.1L411.1,488.9L415.5,484.8L408.2,477.0Z"/>
<path fill="#009fff" d="M455.5,474.6L477.6,492.2L481.3,487.6L459.2,470.0ZM467.8,487.2L478.2,492.4L480.7,487.4L470.3,482.2ZM469.7,482.8L477.1,491.8L481.7,488.0L474.3,479.0Z"/>
<path fill="#00bfff" d="M520.0,474.5L543.0,496.0L547.1,491.7L524.1,470.1ZM532.7,489.7L543.5,496.3L546.5,491.4L535.7,484.8ZM535.3,485.1L542.6,495.5L547.4,492.2L540.1,481.8Z"/>
<path fill="#00efff" d="M584.7,474.4L608.9,500.3L613.2,496.2L589.0,470.3ZM597.9,492.6L609.4,500.7L612.7,495.9L601.3,487.8ZM601.4,487.8L608.6,499.7L613.5,496.8L606.3,484.8Z"/>
<path fill="#10ffef" d="M649.3,474.1L672.6,504.8L677.3,501.2L654.0,470.5ZM661.7,495.5L673.0,505.3L676.9,500.7L665.6,490.9ZM666.1,490.7L672.5,504.2L677.5,501.8L671.0,488.3Z"/>
<path fill="#30ffcf" d="M713.9,473.7L735.1,510.6L740.1,507.8L718.9,470.9ZM724.5,499.1L735.4,511.2L739.8,507.2L729.0,495.1ZM730.1,494.6L735.1,510.0L740.1,508.4L735.1,493.0Z"/>
<path fill="#60ff9f" d="M778.7,473.5L797.9,515.7L802.9,513.5L783.7,471.2ZM787.7,502.2L798.1,516.3L802.8,512.9L792.4,498.8ZM794.2,498.1L798.0,515.1L802.9,514.0L799.1,497.0Z"/>
<path fill="#70ff8f" d="M843.4,473.1L859.0,519.7L863.9,518.0L848.4,471.5ZM849.7,504.5L859.0,520.3L863.9,517.4L854.7,501.6ZM856.9,500.9L859.0,519.1L863.9,518.6L861.8,500.4Z"/>
<path fill="#8fff70" d="M908.3,472.8L919.0,523.0L923.9,521.9L913.1,471.8ZM911.2,506.1L918.9,523.5L923.9,521.3L916.2,503.9ZM919.0,503.4L919.0,522.4L923.8,522.4L923.8,503.4Z"/>
<path fill="#8fff70" d="M973.1,472.6L980.0,524.5L984.8,523.9L977.9,472.0ZM973.5,506.8L979.9,525.1L984.9,523.3L978.4,505.0ZM981.4,504.7L980.0,524.0L984.8,524.4L986.3,505.0Z"/>
<path fill="#9fff60" d="M1037.8,472.5L1041.0,525.4L1045.8,525.1L1042.6,472.2ZM1035.7,507.0L1040.9,525.9L1045.8,524.6L1040.7,505.7ZM1043.8,505.5L1040.9,524.9L1045.8,525.6L1048.7,506.2Z"/>
<path fill="#9fff60" d="M1102.6,472.3L1103.0,526.3L1107.8,526.3L1107.4,472.3ZM1098.7,507.4L1102.9,526.9L1107.8,525.8L1103.6,506.3ZM1106.9,506.3L1102.9,525.8L1107.8,526.8L1111.8,507.3Z"/>
<path fill="#9fff60" d="M1167.4,472.2L1165.3,526.2L1170.1,526.4L1172.2,472.4ZM1161.9,507.1L1165.3,526.7L1170.1,525.9L1166.8,506.2ZM1170.1,506.4L1165.2,525.7L1170.1,526.9L1175.0,507.6Z"/>
<path fill="#8fff70" d="M1232.1,472.0L1225.9,523.2L1230.7,523.8L1237.0,472.6ZM1224.3,504.6L1225.9,523.7L1230.7,523.3L1229.1,504.2ZM1232.0,504.5L1225.8,522.7L1230.8,524.4L1237.0,506.2Z"/>
<path fill="#80ff80" d="M1296.9,471.7L1284.4,521.1L1289.3,522.3L1301.8,472.9ZM1285.2,502.7L1284.5,521.6L1289.3,521.8L1290.0,502.9ZM1292.7,503.5L1284.4,520.5L1289.4,522.9L1297.7,505.9Z"/>
<path fill="#70ff8f" d="M1361.6,471.4L1345.4,517.3L1350.4,519.0L1366.6,473.2ZM1347.9,499.8L1345.5,517.8L1350.3,518.5L1352.7,500.4ZM1354.9,501.1L1345.4,516.7L1350.3,519.6L1359.8,504.1Z"/>
<path fill="#50ffaf" d="M1426.4,471.2L1408.1,512.8L1413.1,515.0L1431.4,473.4ZM1411.7,496.6L1408.2,513.4L1413.1,514.4L1416.6,497.6ZM1418.2,498.2L1408.2,512.2L1413.0,515.6L1423.0,501.6Z"/>
<path fill="#30ffcf" d="M1491.2,471.0L1471.0,507.9L1475.9,510.6L1496.1,473.7ZM1475.6,493.1L1471.0,508.5L1475.9,510.0L1480.6,494.6ZM1481.6,495.0L1471.2,507.3L1475.7,511.2L1486.2,498.9Z"/>
<path fill="#20ffdf" d="M1556.0,470.6L1532.1,504.0L1536.9,507.5L1560.8,474.0ZM1538.3,490.2L1532.0,504.6L1537.0,506.8L1543.3,492.4ZM1544.1,492.9L1532.5,503.5L1536.5,507.9L1548.1,497.3Z"/>
<path fill="#00ffff" d="M1620.9,470.4L1597.2,499.5L1601.8,503.2L1625.5,474.2ZM1603.7,487.1L1597.0,500.0L1602.0,502.6L1608.7,489.6ZM1609.0,489.8L1597.6,499.0L1601.4,503.6L1612.7,494.5Z"/>
<path fill="#00cfff" d="M1685.8,470.2L1662.8,493.0L1667.0,497.2L1690.1,474.5ZM1669.6,482.7L1662.5,493.5L1667.3,496.7L1674.5,485.9ZM1674.3,485.6L1663.3,492.7L1666.5,497.5L1677.4,490.5Z"/>
<path fill="#00afff" d="M1750.7,470.1L1729.3,489.2L1733.3,493.7L1754.7,474.6ZM1735.9,480.2L1728.9,489.7L1733.6,493.2L1740.7,483.7ZM1740.1,483.1L1729.9,489.0L1732.7,493.9L1742.9,488.0Z"/>
<path fill="#008fff" d="M1815.7,470.0L1794.9,485.6L1798.5,490.3L1819.3,474.7ZM1801.6,477.8L1794.4,486.0L1798.9,490.0L1806.1,481.7ZM1805.4,480.8L1795.5,485.5L1797.9,490.5L1807.8,485.8Z"/>
<path fill="#0070ff" d="M1880.7,469.9L1860.9,482.2L1863.9,487.1L1883.8,474.8ZM1867.6,475.5L1860.3,482.5L1864.4,486.8L1871.7,479.9ZM1870.9,478.7L1861.5,482.2L1863.3,487.1L1872.8,483.7Z"/>
<path fill="#0060ff" d="M1945.4,469.9L1928.0,481.1L1931.2,486.0L1948.6,474.8ZM1934.1,474.9L1927.5,481.4L1931.7,485.7L1938.3,479.2ZM1937.3,477.8L1928.7,481.1L1930.6,486.1L1939.2,482.7Z"/>
<path fill="#0030ff" d="M261.5,410.0L276.2,418.7L279.1,413.8L264.5,405.1ZM269.2,416.1L276.8,418.7L278.5,413.8L270.9,411.2ZM269.7,413.0L275.6,418.5L279.7,414.1L273.7,408.6Z"/>
<path fill="#0050ff" d="M326.1,409.9L342.0,421.3L345.4,416.5L329.5,405.2ZM334.5,417.9L342.6,421.4L344.8,416.4L336.7,412.9ZM335.5,414.4L341.5,420.9L345.9,416.9L339.9,410.4Z"/>
<path fill="#0060ff" d="M390.7,409.9L407.9,423.6L411.6,419.0L394.4,405.2ZM399.9,419.4L408.5,423.8L411.0,418.8L402.4,414.5ZM401.3,415.7L407.5,423.2L412.1,419.4L405.9,412.0Z"/>
<path fill="#0080ff" d="M455.3,409.8L473.2,425.9L477.2,421.5L459.3,405.3ZM464.8,421.0L473.7,426.1L476.6,421.2L467.7,416.0ZM466.7,417.1L472.8,425.4L477.6,422.0L471.5,413.6Z"/>
<path fill="#009fff" d="M519.9,409.7L539.2,429.3L543.5,425.1L524.2,405.4ZM530.2,423.3L539.7,429.6L543.0,424.7L533.5,418.4ZM532.8,419.1L538.9,428.7L543.8,425.6L537.6,416.0Z"/>
<path fill="#00afff" d="M584.6,409.5L604.3,432.0L608.8,428.1L589.1,405.6ZM595.1,425.1L604.8,432.4L608.3,427.7L598.6,420.4ZM598.1,420.8L604.1,431.4L609.0,428.7L603.1,418.0Z"/>
<path fill="#00cfff" d="M649.2,409.2L668.1,436.2L672.9,432.8L654.0,405.9ZM658.9,427.7L668.5,436.7L672.6,432.3L663.0,423.3ZM662.9,423.5L668.1,435.6L673.0,433.4L667.9,421.3Z"/>
<path fill="#00dfff" d="M713.9,408.9L730.3,439.6L735.3,436.9L718.9,406.2ZM721.7,429.6L730.5,440.1L735.1,436.3L726.2,425.8ZM726.5,425.8L730.3,439.0L735.3,437.5L731.4,424.3Z"/>
<path fill="#10ffef" d="M778.7,408.6L793.3,444.1L798.2,442.0L783.7,406.5ZM785.0,432.4L793.3,444.7L798.2,441.4L789.8,429.1ZM790.6,428.8L793.3,443.5L798.2,442.6L795.5,427.9Z"/>
<path fill="#20ffdf" d="M843.5,408.3L855.4,446.4L860.4,444.9L848.4,406.8ZM847.9,433.6L855.4,447.0L860.4,444.3L852.8,430.8ZM854.0,430.5L855.5,445.9L860.3,445.4L858.8,430.1Z"/>
<path fill="#30ffcf" d="M908.3,408.1L917.2,449.1L922.1,448.0L913.1,407.0ZM910.6,435.0L917.2,449.7L922.2,447.4L915.6,432.8ZM917.1,432.5L917.3,448.6L922.1,448.5L921.9,432.5Z"/>
<path fill="#40ffbf" d="M973.1,407.9L978.6,450.7L983.4,450.1L977.9,407.2ZM973.1,435.7L978.5,451.2L983.5,449.5L978.1,434.0ZM979.9,433.8L978.6,450.2L983.4,450.6L984.7,434.2Z"/>
<path fill="#50ffaf" d="M1037.8,407.7L1040.3,452.3L1045.1,452.0L1042.6,407.4ZM1035.8,436.4L1040.2,452.8L1045.1,451.5L1040.8,435.1ZM1042.8,435.0L1040.2,451.8L1045.1,452.5L1047.7,435.8Z"/>
<path fill="#40ffbf" d="M1102.6,407.5L1102.6,452.1L1107.4,452.1L1107.4,407.5ZM1099.1,436.1L1102.6,452.7L1107.5,451.6L1104.0,435.1ZM1106.0,435.1L1102.6,451.6L1107.5,452.7L1110.9,436.1Z"/>
<path fill="#50ffaf" d="M1167.4,407.4L1165.3,452.0L1170.1,452.3L1172.2,407.7ZM1162.6,435.8L1165.3,452.5L1170.1,451.8L1167.4,435.0ZM1169.5,435.1L1165.2,451.5L1170.2,452.8L1174.4,436.4Z"/>
<path fill="#40ffbf" d="M1232.1,407.2L1226.2,451.1L1231.1,451.7L1237.0,407.9ZM1225.0,434.8L1226.3,451.6L1231.1,451.2L1229.8,434.5ZM1231.8,434.7L1226.2,450.5L1231.1,452.3L1236.8,436.5Z"/>
<path fill="#30ffcf" d="M1296.9,407.0L1287.9,449.1L1292.8,450.1L1301.8,408.1ZM1288.0,433.2L1287.9,449.6L1292.7,449.6L1292.8,433.2ZM1294.5,433.5L1287.9,448.5L1292.8,450.7L1299.5,435.7Z"/>
<path fill="#20ffdf" d="M1361.6,406.8L1350.0,446.0L1354.9,447.5L1366.6,408.3ZM1351.3,430.9L1350.0,446.5L1354.8,446.9L1356.1,431.3ZM1357.4,431.6L1350.0,445.4L1354.9,448.1L1362.4,434.3Z"/>
<path fill="#10ffef" d="M1426.4,406.5L1411.7,442.8L1416.7,444.8L1431.4,408.6ZM1414.5,428.4L1411.8,443.3L1416.7,444.2L1419.3,429.3ZM1420.2,429.6L1411.8,442.2L1416.7,445.4L1425.1,432.8Z"/>
<path fill="#00efff" d="M1491.1,406.3L1474.6,438.8L1479.6,441.3L1496.1,408.8ZM1478.4,425.6L1474.7,439.4L1479.6,440.7L1483.3,426.9ZM1483.8,427.1L1474.8,438.2L1479.4,441.9L1488.4,430.8Z"/>
<path fill="#00dfff" d="M1556.0,406.0L1536.9,435.3L1541.7,438.5L1560.8,409.1ZM1541.8,423.0L1536.8,435.9L1541.8,437.8L1546.8,425.0ZM1546.9,425.0L1537.2,434.8L1541.4,439.0L1551.2,429.2Z"/>
<path fill="#00cfff" d="M1620.8,405.8L1601.6,431.4L1606.3,434.9L1625.5,409.3ZM1606.9,420.3L1601.4,432.0L1606.4,434.3L1611.9,422.7ZM1611.6,422.4L1602.0,430.9L1605.9,435.4L1615.6,426.9Z"/>
<path fill="#00afff" d="M1685.7,405.6L1667.0,427.5L1671.5,431.4L1690.2,409.5ZM1672.4,417.7L1666.8,428.1L1671.8,430.8L1677.4,420.4ZM1676.8,419.9L1667.5,427.1L1671.1,431.8L1680.4,424.6Z"/>
<path fill="#009fff" d="M1750.6,405.5L1731.6,424.9L1735.9,429.1L1754.9,409.6ZM1737.4,415.9L1731.3,425.4L1736.2,428.5L1742.3,419.0ZM1741.5,418.3L1732.1,424.5L1735.4,429.4L1744.8,423.1Z"/>
<path fill="#0080ff" d="M1815.5,405.3L1797.2,422.0L1801.2,426.4L1819.5,409.8ZM1803.0,413.9L1796.8,422.5L1801.6,425.9L1807.7,417.4ZM1806.8,416.4L1797.8,421.7L1800.7,426.6L1809.7,421.3Z"/>
<path fill="#0060ff" d="M1880.4,405.2L1863.5,419.1L1867.2,423.7L1884.1,409.9ZM1869.0,412.1L1863.0,419.6L1867.7,423.3L1873.7,415.8ZM1872.6,414.5L1864.0,418.9L1866.6,423.9L1875.1,419.5Z"/>
<path fill="#0050ff" d="M1945.3,405.2L1929.0,416.7L1932.4,421.5L1948.7,409.9ZM1934.6,410.5L1928.5,417.0L1932.9,421.1L1939.0,414.5ZM1937.9,413.0L1929.6,416.6L1931.8,421.6L1940.0,418.0Z"/>
<path fill="#0040ff" d="M261.1,345.1L275.5,357.0L279.3,352.5L264.9,340.5ZM268.5,353.2L276.1,357.2L278.7,352.3L271.1,348.3ZM269.8,349.9L275.1,356.6L279.7,352.9L274.4,346.2Z"/>
<path fill="#0050ff" d="M325.9,345.1L341.1,357.1L344.7,352.5L329.6,340.5ZM333.8,353.3L341.7,357.3L344.1,352.3L336.3,348.4ZM335.0,349.9L340.6,356.7L345.2,352.9L339.6,346.1Z"/>
<path fill="#0060ff" d="M390.6,345.0L406.7,359.1L410.6,354.6L394.5,340.5ZM399.1,354.7L407.3,359.3L410.1,354.4L401.8,349.8ZM400.6,351.1L406.3,358.6L411.0,355.0L405.3,347.5Z"/>
<path fill="#0070ff" d="M455.1,344.8L470.2,361.9L474.7,358.0L459.6,340.8ZM462.7,356.4L470.6,362.3L474.2,357.6L466.2,351.7ZM465.1,352.7L469.9,361.4L474.9,358.6L470.0,349.9Z"/>
<path fill="#008fff" d="M519.8,344.7L536.3,364.7L540.9,360.9L524.4,340.9ZM528.2,358.3L536.7,365.1L540.4,360.5L531.9,353.7ZM531.0,354.4L536.1,364.1L541.1,361.5L536.0,351.8Z"/>
<path fill="#009fff" d="M584.5,344.5L600.7,367.0L605.5,363.6L589.2,341.1ZM592.6,359.8L601.1,367.5L605.1,363.1L596.6,355.3ZM595.9,355.9L600.6,366.4L605.6,364.2L600.9,353.7Z"/>
<path fill="#00afff" d="M649.2,344.3L664.5,369.0L669.4,366.0L654.1,341.3ZM656.6,361.0L664.8,369.6L669.1,365.5L660.9,356.8ZM660.4,357.2L664.5,368.4L669.4,366.6L665.4,355.4Z"/>
<path fill="#00bfff" d="M713.9,344.0L727.1,371.4L732.1,369.0L718.9,341.6ZM719.7,362.2L727.2,372.0L731.9,368.4L724.4,358.6ZM724.2,358.8L727.1,370.8L732.0,369.6L729.1,357.6Z"/>
<path fill="#00dfff" d="M778.7,343.6L790.1,376.5L795.1,374.7L783.6,341.9ZM783.1,365.3L790.2,377.1L795.1,374.1L788.0,362.3ZM788.4,362.3L790.2,375.9L795.0,375.3L793.3,361.7Z"/>
<path fill="#00efff" d="M843.5,343.4L852.7,378.8L857.6,377.6L848.4,342.1ZM846.3,366.6L852.6,379.4L857.6,377.0L851.2,364.1ZM852.0,364.0L852.7,378.3L857.5,378.1L856.9,363.8Z"/>
<path fill="#00ffff" d="M908.3,343.3L915.8,380.5L920.7,379.5L913.1,342.3ZM909.9,367.5L915.7,381.1L920.7,379.0L914.9,365.4ZM915.9,365.2L915.8,380.0L920.6,380.1L920.7,365.3Z"/>
<path fill="#10ffef" d="M973.0,343.1L978.6,382.2L983.4,381.5L977.9,342.4ZM973.3,368.4L978.5,382.8L983.5,381.0L978.3,366.6ZM979.6,366.5L978.6,381.7L983.4,382.0L984.4,366.8Z"/>
<path fill="#20ffdf" d="M1037.8,342.9L1039.6,383.1L1044.4,382.8L1042.6,342.7ZM1035.7,368.6L1039.5,383.6L1044.4,382.3L1040.6,367.3ZM1042.1,367.3L1039.5,382.5L1044.4,383.4L1046.9,368.1Z"/>
<path fill="#20ffdf" d="M1102.6,342.8L1102.6,383.0L1107.4,383.0L1107.4,342.8ZM1099.4,368.3L1102.6,383.5L1107.5,382.4L1104.3,367.3ZM1105.7,367.3L1102.6,382.4L1107.5,383.5L1110.6,368.3Z"/>
<path fill="#10ffef" d="M1167.4,342.7L1165.3,382.1L1170.1,382.4L1172.2,342.9ZM1162.9,367.5L1165.3,382.6L1170.1,381.9L1167.8,366.8ZM1169.2,366.8L1165.2,381.6L1170.2,382.9L1174.1,368.1Z"/>
<path fill="#10ffef" d="M1232.1,342.4L1226.3,381.5L1231.1,382.2L1237.0,343.1ZM1225.4,366.7L1226.3,382.0L1231.1,381.7L1230.2,366.5ZM1231.5,366.6L1226.2,380.9L1231.2,382.8L1236.5,368.5Z"/>
<path fill="#10ffef" d="M1296.9,342.3L1289.0,379.9L1293.9,380.9L1301.8,343.3ZM1289.0,365.5L1289.0,380.4L1293.8,380.4L1293.8,365.5ZM1294.9,365.6L1288.9,379.3L1293.9,381.5L1299.9,367.8Z"/>
<path fill="#00ffff" d="M1361.6,342.1L1351.8,377.9L1356.7,379.2L1366.6,343.5ZM1352.7,363.9L1351.8,378.4L1356.6,378.7L1357.5,364.2ZM1358.4,364.4L1351.7,377.3L1356.7,379.8L1363.4,366.9Z"/>
<path fill="#00efff" d="M1426.4,341.8L1413.6,374.6L1418.6,376.5L1431.4,343.8ZM1415.9,361.4L1413.6,375.1L1418.5,375.9L1420.8,362.3ZM1421.2,362.3L1413.6,373.9L1418.5,377.1L1426.1,365.5Z"/>
<path fill="#00bfff" d="M1491.1,341.6L1478.3,369.1L1483.3,371.4L1496.1,343.9ZM1481.1,357.7L1478.3,369.7L1483.2,370.8L1486.0,358.8ZM1485.8,358.6L1478.4,368.5L1483.1,372.0L1490.5,362.2Z"/>
<path fill="#00afff" d="M1555.9,341.3L1540.5,367.0L1545.4,369.9L1560.9,344.3ZM1544.5,356.1L1540.5,367.6L1545.4,369.3L1549.4,357.8ZM1549.1,357.5L1540.8,366.4L1545.1,370.5L1553.5,361.5Z"/>
<path fill="#009fff" d="M1620.8,341.1L1604.5,364.1L1609.3,367.5L1625.6,344.5ZM1609.0,354.0L1604.4,364.7L1609.4,366.9L1614.0,356.2ZM1613.4,355.7L1604.8,363.6L1608.9,368.0L1617.4,360.1Z"/>
<path fill="#008fff" d="M1685.6,341.0L1669.7,361.5L1674.4,365.1L1690.3,344.6ZM1674.3,352.3L1669.6,362.1L1674.5,364.5L1679.3,354.7ZM1678.4,354.0L1670.1,361.0L1674.0,365.6L1682.3,358.5Z"/>
<path fill="#0070ff" d="M1750.5,340.8L1735.0,358.5L1739.5,362.4L1755.0,344.7ZM1739.7,350.3L1734.7,359.1L1739.7,361.9L1744.7,353.0ZM1743.5,352.0L1735.4,358.1L1739.0,362.8L1747.1,356.7Z"/>
<path fill="#0060ff" d="M1815.3,340.7L1799.9,356.6L1804.2,360.8L1819.6,344.9ZM1804.8,349.0L1799.6,357.2L1804.5,360.3L1809.6,352.1ZM1808.4,350.9L1800.4,356.3L1803.6,361.1L1811.7,355.7Z"/>
<path fill="#0050ff" d="M1880.3,340.5L1865.1,353.7L1869.1,358.2L1884.2,345.0ZM1870.2,347.0L1864.8,354.2L1869.5,357.7L1874.9,350.5ZM1873.6,349.1L1865.7,353.5L1868.5,358.4L1876.4,354.0Z"/>
<path fill="#0030ff" d="M1945.2,340.4L1931.4,351.2L1935.1,355.9L1948.8,345.1ZM1936.2,345.4L1930.9,351.6L1935.5,355.5L1940.8,349.2ZM1939.4,347.5L1932.0,351.1L1934.4,356.0L1941.8,352.4Z"/>
<path fill="#0030ff" d="M261.1,280.3L273.8,290.9L277.6,286.3L264.9,275.7ZM267.4,287.4L274.4,291.1L277.0,286.1L270.0,282.4ZM268.5,284.3L273.3,290.4L278.0,286.8L273.1,280.6Z"/>
<path fill="#0040ff" d="M325.8,280.3L339.2,291.9L343.1,287.4L329.7,275.8ZM332.5,288.1L339.7,292.1L342.5,287.1L335.3,283.1ZM333.8,284.8L338.8,291.4L343.5,287.8L338.5,281.3Z"/>
<path fill="#0040ff" d="M390.4,280.2L404.1,293.5L408.3,289.2L394.6,275.9ZM397.3,289.1L404.7,293.8L407.8,288.9L400.4,284.2ZM399.0,285.7L403.8,293.0L408.6,289.7L403.8,282.5Z"/>
<path fill="#0050ff" d="M455.0,279.9L468.4,295.7L473.0,291.9L459.6,276.1ZM461.6,290.5L468.9,296.2L472.5,291.5L465.2,285.8ZM463.8,287.0L468.2,295.2L473.2,292.5L468.8,284.4Z"/>
<path fill="#0060ff" d="M519.7,279.7L532.8,297.7L537.6,294.2L524.5,276.3ZM526.0,291.7L533.2,298.2L537.2,293.8L530.0,287.3ZM528.7,288.2L532.7,297.1L537.7,294.9L533.7,286.0Z"/>
<path fill="#0080ff" d="M584.4,279.5L597.3,300.1L602.2,297.0L589.3,276.5ZM590.4,293.2L597.5,300.6L601.9,296.5L594.7,289.0ZM593.6,289.7L597.2,299.4L602.2,297.6L598.6,287.9Z"/>
<path fill="#008fff" d="M649.1,279.4L661.8,301.8L666.7,299.0L654.1,276.6ZM654.8,294.2L662.0,302.3L666.5,298.4L659.3,290.3ZM658.5,290.8L661.7,301.2L666.7,299.6L663.4,289.3Z"/>
<path fill="#008fff" d="M713.9,279.1L724.3,303.4L729.3,301.3L718.9,276.9ZM718.1,295.0L724.4,304.1L729.2,300.7L722.9,291.6ZM722.2,292.0L724.4,302.9L729.3,301.9L727.1,291.0Z"/>
<path fill="#00afff" d="M778.7,278.8L788.0,307.4L792.9,305.8L783.6,277.2ZM781.9,297.4L788.0,308.0L792.9,305.2L786.8,294.6ZM786.7,294.7L788.0,306.8L792.9,306.3L791.6,294.2Z"/>
<path fill="#00bfff" d="M843.5,278.6L850.9,309.5L855.8,308.3L848.4,277.4ZM845.4,298.5L850.8,310.1L855.8,307.7L850.4,296.2ZM850.6,296.2L850.9,308.9L855.7,308.8L855.4,296.0Z"/>
<path fill="#00cfff" d="M908.3,278.5L914.7,311.2L919.6,310.2L913.1,277.5ZM909.5,299.5L914.7,311.8L919.7,309.6L914.5,297.4ZM914.9,297.4L914.8,310.7L919.6,310.7L919.7,297.5Z"/>
<path fill="#00dfff" d="M973.1,278.3L977.5,311.8L982.3,311.2L977.9,277.7ZM973.0,299.7L977.4,312.4L982.4,310.6L977.9,298.0ZM978.5,297.9L977.5,311.3L982.3,311.7L983.3,298.3Z"/>
<path fill="#00dfff" d="M1037.8,278.1L1039.6,311.7L1044.4,311.4L1042.6,277.9ZM1036.1,299.3L1039.5,312.2L1044.4,310.9L1041.0,298.0ZM1041.6,298.0L1039.5,311.2L1044.4,311.9L1046.5,298.7Z"/>
<path fill="#00dfff" d="M1102.6,278.0L1102.6,311.6L1107.4,311.6L1107.4,278.0ZM1099.8,299.0L1102.6,312.1L1107.5,311.1L1104.7,298.0ZM1105.3,298.0L1102.6,311.1L1107.5,312.1L1110.2,299.0Z"/>
<path fill="#00dfff" d="M1167.4,277.9L1165.3,311.4L1170.1,311.7L1172.2,278.2ZM1163.3,298.7L1165.3,311.9L1170.1,311.2L1168.2,298.0ZM1168.8,298.0L1165.2,310.9L1170.2,312.2L1173.7,299.3Z"/>
<path fill="#00dfff" d="M1232.1,277.6L1227.0,311.1L1231.8,311.8L1237.0,278.4ZM1226.3,298.2L1227.0,311.6L1231.8,311.3L1231.1,297.9ZM1231.7,297.9L1226.9,310.5L1231.9,312.4L1236.6,299.8Z"/>
<path fill="#00cfff" d="M1296.9,277.5L1289.8,310.1L1294.6,311.2L1301.8,278.5ZM1289.9,297.3L1289.8,310.7L1294.6,310.7L1294.7,297.4ZM1295.2,297.4L1289.7,309.6L1294.7,311.8L1300.1,299.6Z"/>
<path fill="#00cfff" d="M1361.6,277.3L1352.6,308.0L1357.5,309.5L1366.6,278.7ZM1353.6,295.7L1352.6,308.6L1357.4,309.0L1358.5,296.1ZM1358.7,296.1L1352.6,307.4L1357.5,310.1L1363.6,298.8Z"/>
<path fill="#00afff" d="M1426.4,277.0L1415.5,304.7L1420.5,306.7L1431.4,279.0ZM1417.6,293.3L1415.5,305.3L1420.4,306.1L1422.4,294.2ZM1422.2,294.0L1415.5,304.1L1420.4,307.3L1427.1,297.2Z"/>
<path fill="#008fff" d="M1491.1,276.8L1479.5,300.3L1484.4,302.8L1496.1,279.2ZM1482.3,290.2L1479.5,300.9L1484.4,302.2L1487.2,291.5ZM1486.4,291.1L1479.6,299.7L1484.3,303.4L1491.1,294.7Z"/>
<path fill="#008fff" d="M1555.9,276.7L1543.9,299.6L1548.9,302.2L1560.9,279.3ZM1546.9,289.8L1543.9,300.2L1548.8,301.6L1551.8,291.2ZM1551.0,290.6L1544.1,299.0L1548.7,302.8L1555.6,294.4Z"/>
<path fill="#0080ff" d="M1620.7,276.5L1607.8,298.3L1612.7,301.2L1625.6,279.5ZM1611.2,288.8L1607.7,298.9L1612.7,300.6L1616.2,290.5ZM1615.3,289.9L1608.0,297.8L1612.4,301.8L1619.7,293.9Z"/>
<path fill="#0070ff" d="M1685.5,276.3L1672.0,295.5L1676.8,298.9L1690.3,279.7ZM1675.9,286.8L1671.9,296.1L1676.9,298.3L1680.9,289.0ZM1679.8,288.1L1672.4,295.0L1676.5,299.4L1683.9,292.5Z"/>
<path fill="#0060ff" d="M1750.4,276.1L1736.7,292.4L1741.2,296.2L1755.0,279.9ZM1740.9,284.7L1736.5,293.0L1741.4,295.7L1745.9,287.4ZM1744.6,286.2L1737.1,292.0L1740.8,296.7L1748.2,290.9Z"/>
<path fill="#0050ff" d="M1815.2,276.1L1802.1,291.7L1806.7,295.5L1819.8,279.9ZM1806.2,284.3L1801.9,292.3L1806.9,294.9L1811.2,286.9ZM1809.7,285.7L1802.6,291.3L1806.3,296.0L1813.4,290.3Z"/>
<path fill="#0040ff" d="M1880.2,275.8L1866.8,288.6L1870.9,293.0L1884.3,280.2ZM1871.3,282.1L1866.5,289.2L1871.3,292.5L1876.1,285.4ZM1874.6,283.9L1867.3,288.4L1870.4,293.3L1877.6,288.8Z"/>
<path fill="#0030ff" d="M1945.0,275.8L1933.0,286.9L1937.1,291.3L1949.1,280.2ZM1937.2,281.0L1932.6,287.4L1937.4,290.8L1941.9,284.4ZM1940.3,282.6L1933.6,286.6L1936.5,291.5L1943.2,287.5Z"/>
<path fill="#0020ff" d="M261.1,215.5L273.0,225.7L276.9,221.2L264.9,211.0ZM266.9,222.3L273.6,225.9L276.3,221.0L269.6,217.3ZM268.0,219.2L272.6,225.3L277.3,221.7L272.7,215.6Z"/>
<path fill="#0030ff" d="M325.7,215.4L337.3,226.6L341.5,222.3L329.9,211.1ZM331.3,222.8L337.8,226.9L340.9,222.0L334.3,217.9ZM332.6,219.7L336.9,226.1L341.8,222.9L337.4,216.4Z"/>
<path fill="#0040ff" d="M390.3,215.3L402.3,228.3L406.7,224.2L394.7,211.2ZM396.1,223.8L402.8,228.6L406.2,223.8L399.5,219.1ZM397.8,220.6L402.0,227.7L406.9,224.8L402.7,217.7Z"/>
<path fill="#0040ff" d="M455.0,215.2L467.4,229.6L471.9,225.7L459.6,211.3ZM461.0,224.7L467.8,230.0L471.4,225.3L464.6,220.0ZM463.0,221.4L467.1,229.0L472.1,226.3L468.0,218.7Z"/>
<path fill="#0050ff" d="M519.7,215.0L531.7,231.2L536.5,227.7L524.4,211.5ZM525.4,225.7L532.1,231.7L536.1,227.2L529.3,221.2ZM527.8,222.4L531.6,230.6L536.6,228.3L532.8,220.1Z"/>
<path fill="#0060ff" d="M584.4,214.8L596.2,232.9L601.1,229.7L589.3,211.7ZM589.8,226.7L596.5,233.4L600.7,229.2L594.0,222.5ZM592.7,223.4L596.1,232.3L601.1,230.3L597.7,221.5Z"/>
<path fill="#0070ff" d="M649.1,214.5L659.4,234.5L664.4,232.0L654.1,212.0ZM653.4,227.5L659.6,235.1L664.2,231.4L658.0,223.8ZM656.8,224.5L659.4,233.9L664.3,232.6L661.8,223.1Z"/>
<path fill="#0070ff" d="M713.9,214.1L722.0,236.6L727.0,234.8L718.9,212.3ZM716.7,228.5L722.1,237.2L727.0,234.1L721.6,225.5ZM720.7,225.9L722.1,236.0L727.0,235.3L725.5,225.2Z"/>
<path fill="#008fff" d="M778.7,214.0L786.3,239.8L791.2,238.3L783.6,212.5ZM781.0,230.5L786.3,240.4L791.2,237.7L785.9,227.9ZM785.5,228.1L786.4,239.3L791.2,238.9L790.3,227.7Z"/>
<path fill="#009fff" d="M843.5,213.8L849.5,241.2L854.4,240.1L848.4,212.7ZM844.7,231.2L849.5,241.8L854.5,239.5L849.7,228.9ZM849.4,229.1L849.6,240.7L854.4,240.6L854.2,229.0Z"/>
<path fill="#00afff" d="M908.3,213.6L913.0,242.2L917.9,241.4L913.1,212.8ZM908.6,231.7L912.9,242.7L917.9,240.8L913.6,229.7ZM913.5,229.8L913.0,241.7L917.8,241.9L918.3,230.0Z"/>
<path fill="#00afff" d="M973.1,213.5L976.8,242.8L981.6,242.2L977.9,212.9ZM972.8,232.0L976.7,243.4L981.7,241.7L977.7,230.3ZM977.8,230.3L976.8,242.3L981.6,242.7L982.6,230.7Z"/>
<path fill="#00afff" d="M1037.8,213.4L1039.6,243.1L1044.4,242.8L1042.6,213.1ZM1036.3,231.9L1039.5,243.6L1044.4,242.3L1041.3,230.6ZM1041.3,230.6L1039.5,242.6L1044.4,243.3L1046.2,231.3Z"/>
<path fill="#00afff" d="M1102.6,213.2L1102.6,243.0L1107.4,243.0L1107.4,213.2ZM1100.1,231.6L1102.6,243.5L1107.5,242.4L1105.0,230.6ZM1105.1,230.6L1102.6,242.4L1107.5,243.5L1109.9,231.6Z"/>
<path fill="#00afff" d="M1167.4,213.1L1166.0,242.8L1170.8,243.1L1172.2,213.4ZM1164.0,231.4L1166.0,243.3L1170.8,242.6L1168.9,230.6ZM1169.0,230.6L1165.9,242.3L1170.9,243.6L1173.9,231.8Z"/>
<path fill="#00afff" d="M1232.1,212.9L1227.7,242.1L1232.6,242.9L1237.0,213.6ZM1227.0,230.6L1227.7,242.6L1232.5,242.4L1231.9,230.3ZM1231.9,230.3L1227.6,241.6L1232.6,243.4L1236.8,232.1Z"/>
<path fill="#00afff" d="M1296.9,212.8L1291.5,241.3L1296.4,242.2L1301.8,213.7ZM1291.3,229.9L1291.5,241.8L1296.3,241.7L1296.1,229.8ZM1296.0,229.7L1291.4,240.7L1296.4,242.8L1301.0,231.8Z"/>
<path fill="#009fff" d="M1361.6,212.6L1354.3,239.9L1359.2,241.2L1366.6,213.9ZM1355.0,228.8L1354.4,240.4L1359.2,240.7L1359.8,229.0ZM1359.5,228.9L1354.3,239.3L1359.3,241.8L1364.5,231.4Z"/>
<path fill="#008fff" d="M1426.4,212.4L1418.2,237.1L1423.1,238.8L1431.3,214.1ZM1419.5,226.8L1418.2,237.7L1423.1,238.2L1424.3,227.4ZM1423.7,227.1L1418.2,236.5L1423.1,239.4L1428.6,229.9Z"/>
<path fill="#0070ff" d="M1491.1,212.1L1481.8,233.3L1486.8,235.5L1496.1,214.3ZM1483.9,224.1L1481.8,233.9L1486.7,235.0L1488.8,225.2ZM1487.7,224.6L1481.9,232.7L1486.7,236.2L1492.5,228.0Z"/>
<path fill="#0070ff" d="M1555.9,212.1L1546.2,232.7L1551.2,235.0L1560.9,214.4ZM1548.5,223.6L1546.3,233.3L1551.2,234.4L1553.4,224.8ZM1552.3,224.2L1546.4,232.1L1551.1,235.6L1557.0,227.7Z"/>
<path fill="#0060ff" d="M1620.7,211.9L1610.1,231.3L1615.1,234.0L1625.6,214.6ZM1612.9,222.6L1610.1,231.9L1615.1,233.4L1617.8,224.1ZM1616.6,223.4L1610.3,230.7L1614.9,234.6L1621.1,227.2Z"/>
<path fill="#0060ff" d="M1685.5,211.6L1674.0,229.2L1678.9,232.3L1690.4,214.8ZM1677.4,221.1L1674.0,229.8L1679.0,231.7L1682.3,223.1ZM1680.9,222.1L1674.4,228.6L1678.6,232.9L1685.2,226.3Z"/>
<path fill="#0050ff" d="M1750.3,211.5L1738.6,227.1L1743.3,230.7L1755.1,215.0ZM1742.2,219.7L1738.5,227.7L1743.5,230.1L1747.2,222.0ZM1745.7,220.8L1739.0,226.7L1743.0,231.2L1749.6,225.3Z"/>
<path fill="#0040ff" d="M1815.2,211.4L1803.8,225.2L1808.5,229.0L1819.8,215.1ZM1807.5,218.4L1803.7,225.8L1808.6,228.4L1812.5,221.0ZM1810.8,219.6L1804.3,224.8L1808.0,229.4L1814.5,224.2Z"/>
<path fill="#0030ff" d="M1880.1,211.2L1868.4,223.6L1872.8,227.7L1884.4,215.3ZM1872.3,217.3L1868.2,224.2L1873.1,227.2L1877.2,220.3ZM1875.5,218.7L1868.9,223.3L1872.3,228.1L1878.9,223.5Z"/>
<path fill="#0020ff" d="M1944.7,211.3L1935.2,222.8L1939.7,226.6L1949.3,215.2ZM1938.4,216.9L1935.0,223.3L1939.9,226.0L1943.4,219.5ZM1941.4,217.8L1935.6,222.3L1939.3,227.0L1945.1,222.5Z"/>
<path fill="#0010ff" d="M260.9,150.6L270.7,160.4L275.0,156.2L265.1,146.3ZM265.4,156.9L271.3,160.8L274.4,155.9L268.5,152.0ZM266.6,154.0L270.4,159.9L275.3,156.7L271.4,150.8Z"/>
<path fill="#0020ff" d="M325.6,150.5L336.1,161.8L340.5,157.7L330.0,146.4ZM330.5,157.8L336.6,162.1L340.0,157.3L333.8,153.0ZM332.0,154.8L335.9,161.2L340.8,158.2L336.9,151.8Z"/>
<path fill="#0030ff" d="M390.2,150.4L400.5,162.7L405.1,158.9L394.8,146.6ZM394.9,158.3L400.9,163.1L404.6,158.5L398.6,153.7ZM396.7,155.3L400.3,162.1L405.3,159.5L401.7,152.7Z"/>
<path fill="#0030ff" d="M454.9,150.2L464.9,163.7L469.6,160.1L459.7,146.7ZM459.3,158.9L465.3,164.1L469.2,159.7L463.3,154.4ZM461.4,155.8L464.8,163.0L469.7,160.8L466.4,153.5Z"/>
<path fill="#0030ff" d="M519.7,150.2L530.0,164.3L534.8,160.9L524.5,146.7ZM524.3,159.3L530.4,164.8L534.4,160.4L528.3,154.9ZM526.5,156.3L529.9,163.7L534.9,161.5L531.5,154.0Z"/>
<path fill="#0040ff" d="M584.4,149.9L593.8,166.0L598.7,163.1L589.3,147.0ZM588.3,160.2L594.1,166.5L598.5,162.5L592.7,156.2ZM591.1,157.2L593.8,165.3L598.8,163.7L596.0,155.6Z"/>
<path fill="#0050ff" d="M649.1,149.4L656.2,167.6L661.1,165.7L654.1,147.5ZM651.4,160.8L656.2,168.2L661.1,165.1L656.3,157.7ZM654.8,158.3L656.2,167.0L661.1,166.3L659.7,157.5Z"/>
<path fill="#0060ff" d="M713.9,149.4L721.0,169.4L726.0,167.6L718.9,147.6ZM716.2,162.0L721.0,170.0L726.0,167.0L721.1,159.0ZM719.8,159.5L721.1,168.8L725.9,168.1L724.7,158.8Z"/>
<path fill="#0070ff" d="M778.7,149.1L784.6,171.9L789.6,170.6L783.6,147.8ZM780.1,163.4L784.6,172.5L789.6,170.0L785.1,160.9ZM784.2,161.2L784.7,171.4L789.5,171.1L789.0,161.0Z"/>
<path fill="#0080ff" d="M843.5,149.0L848.5,172.6L853.4,171.5L848.4,148.0ZM844.3,163.7L848.4,173.1L853.4,170.9L849.3,161.5ZM848.5,161.7L848.5,172.0L853.3,172.0L853.3,161.7Z"/>
<path fill="#0080ff" d="M908.3,148.9L912.9,173.2L917.8,172.3L913.1,148.0ZM908.8,164.1L912.9,173.8L917.9,171.7L913.8,162.0ZM913.2,162.2L913.0,172.7L917.8,172.8L918.0,162.3Z"/>
<path fill="#008fff" d="M973.1,148.7L975.8,174.2L980.6,173.7L977.9,148.2ZM972.4,164.5L975.7,174.8L980.7,173.1L977.3,162.9ZM976.9,163.0L975.8,173.7L980.6,174.2L981.7,163.4Z"/>
<path fill="#008fff" d="M1037.8,148.6L1038.9,174.8L1043.7,174.6L1042.6,148.4ZM1036.1,164.6L1038.8,175.3L1043.7,174.1L1041.0,163.4ZM1040.7,163.4L1038.8,174.3L1043.7,175.1L1045.5,164.3Z"/>
<path fill="#008fff" d="M1102.6,148.5L1102.6,174.7L1107.4,174.7L1107.4,148.5ZM1100.3,164.5L1102.6,175.2L1107.5,174.2L1105.2,163.4ZM1104.8,163.4L1102.6,174.2L1107.5,175.2L1109.7,164.5Z"/>
<path fill="#008fff" d="M1167.4,148.3L1166.0,173.9L1170.8,174.1L1172.2,148.6ZM1164.3,163.7L1166.0,174.4L1170.8,173.6L1169.2,163.0ZM1168.7,162.9L1165.9,173.3L1170.9,174.7L1173.6,164.2Z"/>
<path fill="#008fff" d="M1232.1,148.1L1228.7,173.6L1233.6,174.2L1237.0,148.8ZM1227.9,163.3L1228.8,174.1L1233.6,173.7L1232.8,163.0ZM1232.3,162.8L1228.7,173.0L1233.6,174.8L1237.2,164.6Z"/>
<path fill="#0080ff" d="M1296.9,148.0L1292.2,172.7L1297.1,173.6L1301.8,148.9ZM1292.0,162.5L1292.2,173.2L1297.0,173.1L1296.8,162.5ZM1296.2,162.3L1292.1,172.1L1297.1,174.2L1301.2,164.4Z"/>
<path fill="#0080ff" d="M1361.6,147.9L1356.0,171.4L1360.9,172.6L1366.5,149.1ZM1356.3,161.6L1356.1,171.9L1360.9,172.1L1361.1,161.7ZM1360.4,161.5L1356.0,170.8L1360.9,173.2L1365.4,163.8Z"/>
<path fill="#0070ff" d="M1426.4,147.6L1418.9,170.2L1423.8,171.9L1431.3,149.3ZM1420.1,160.6L1418.9,170.8L1423.8,171.4L1424.9,161.2ZM1424.0,160.8L1418.9,169.6L1423.8,172.5L1429.0,163.7Z"/>
<path fill="#0060ff" d="M1491.1,147.4L1482.8,167.3L1487.8,169.4L1496.1,149.5ZM1484.6,158.5L1482.8,167.8L1487.7,168.8L1489.5,159.5ZM1488.3,158.9L1482.9,166.7L1487.7,170.0L1493.1,162.2Z"/>
<path fill="#0050ff" d="M1555.9,147.3L1547.3,165.8L1552.3,168.1L1560.9,149.6ZM1549.4,157.5L1547.3,166.4L1552.2,167.6L1554.3,158.7ZM1552.9,157.9L1547.4,165.2L1552.1,168.8L1557.6,161.4Z"/>
<path fill="#0050ff" d="M1620.7,147.1L1611.1,164.8L1616.1,167.5L1625.7,149.8ZM1613.7,156.8L1611.2,165.4L1616.1,166.9L1618.7,158.2ZM1617.2,157.3L1611.3,164.2L1615.9,168.1L1621.7,161.2Z"/>
<path fill="#0040ff" d="M1685.5,146.9L1675.7,162.4L1680.6,165.5L1690.4,150.0ZM1678.6,155.1L1675.7,163.0L1680.7,164.8L1683.6,156.9ZM1681.9,155.8L1676.0,161.8L1680.3,166.0L1686.2,159.9Z"/>
<path fill="#0030ff" d="M1750.3,146.8L1740.3,161.1L1745.1,164.5L1755.1,150.2ZM1743.4,154.2L1740.2,161.7L1745.2,163.8L1748.4,156.3ZM1746.6,155.0L1740.6,160.6L1744.7,165.0L1750.7,159.4Z"/>
<path fill="#0030ff" d="M1815.2,146.6L1804.9,159.1L1809.5,162.8L1819.8,150.4ZM1808.3,152.8L1804.7,159.7L1809.7,162.3L1813.3,155.4ZM1811.4,153.8L1805.3,158.6L1809.1,163.3L1815.1,158.4Z"/>
<path fill="#0020ff" d="M1880.0,146.5L1870.0,158.3L1874.6,162.2L1884.5,150.4ZM1873.4,152.3L1869.8,158.9L1874.8,161.6L1878.4,155.0ZM1876.4,153.3L1870.5,157.9L1874.2,162.6L1880.1,158.0Z"/>
<path fill="#0020ff" d="M1944.8,146.5L1935.2,157.6L1939.7,161.5L1949.3,150.4ZM1938.5,151.8L1935.0,158.2L1939.9,160.9L1943.4,154.6ZM1941.4,152.8L1935.7,157.2L1939.2,161.9L1945.0,157.5Z"/>
<path fill="#0010ff" d="M261.0,85.9L270.8,95.1L274.9,90.7L265.0,81.5ZM265.5,91.8L271.4,95.3L274.3,90.4L268.4,86.9ZM266.5,88.9L270.5,94.6L275.3,91.2L271.3,85.5Z"/>
<path fill="#0020ff" d="M325.5,85.7L335.0,96.6L339.5,92.6L330.0,81.7ZM329.8,92.6L335.5,97.0L339.1,92.3L333.3,87.9ZM331.3,89.7L334.8,96.0L339.8,93.2L336.2,86.9Z"/>
<path fill="#0020ff" d="M390.2,85.5L399.4,97.5L404.1,93.9L394.9,81.9ZM394.2,93.1L399.8,98.0L403.7,93.4L398.1,88.6ZM396.1,90.2L399.3,96.9L404.3,94.5L401.0,87.8Z"/>
<path fill="#0020ff" d="M454.9,85.4L464.2,98.2L468.9,94.7L459.7,82.0ZM458.9,93.5L464.6,98.7L468.6,94.2L462.9,89.1ZM461.0,90.6L464.1,97.6L469.1,95.3L465.9,88.4Z"/>
<path fill="#0030ff" d="M519.6,85.2L528.6,99.5L533.5,96.4L524.5,82.2ZM523.4,94.3L528.9,100.0L533.2,95.8L527.7,90.1ZM525.8,91.4L528.6,98.9L533.6,97.0L530.8,89.5Z"/>
<path fill="#0040ff" d="M584.4,85.1L593.1,100.5L598.1,97.7L589.3,82.3ZM587.9,94.9L593.4,101.1L597.8,97.1L592.4,90.9ZM590.6,92.0L593.1,99.9L598.1,98.3L595.6,90.4Z"/>
<path fill="#0040ff" d="M649.1,84.7L656.1,101.8L661.1,99.8L654.1,82.7ZM651.4,95.4L656.2,102.4L661.0,99.1L656.3,92.1ZM654.6,92.9L656.2,101.2L661.0,100.3L659.5,92.0Z"/>
<path fill="#0040ff" d="M713.9,84.5L719.4,102.1L724.3,100.6L718.9,82.9ZM715.3,95.3L719.4,102.7L724.3,100.0L720.2,92.6ZM718.7,93.1L719.4,101.6L724.3,101.1L723.5,92.7Z"/>
<path fill="#0060ff" d="M778.7,84.3L783.9,104.7L788.9,103.4L783.6,83.1ZM779.8,96.9L783.9,105.3L788.9,102.8L784.8,94.5ZM783.6,94.8L784.0,104.1L788.8,103.9L788.4,94.6Z"/>
<path fill="#0060ff" d="M843.5,84.2L847.5,105.7L852.4,104.8L848.4,83.2ZM843.8,97.4L847.4,106.3L852.4,104.2L848.8,95.3ZM847.8,95.6L847.5,105.2L852.3,105.3L852.6,95.7Z"/>
<path fill="#0070ff" d="M908.3,84.0L911.3,106.3L916.2,105.7L913.1,83.4ZM908.0,97.7L911.3,106.9L916.2,105.1L912.9,95.9ZM912.0,96.1L911.3,105.8L916.1,106.2L916.8,96.4Z"/>
<path fill="#0070ff" d="M973.1,83.9L975.1,106.3L979.9,105.8L977.9,83.5ZM972.2,97.5L975.0,106.8L980.0,105.3L977.1,96.0ZM976.2,96.1L975.1,105.8L979.9,106.3L981.1,96.6Z"/>
<path fill="#0070ff" d="M1037.8,83.8L1038.9,106.2L1043.7,106.0L1042.6,83.6ZM1036.4,97.3L1038.8,106.7L1043.7,105.5L1041.3,96.0ZM1040.4,96.1L1038.8,105.7L1043.7,106.5L1045.3,96.8Z"/>
<path fill="#0070ff" d="M1102.6,83.7L1102.6,106.1L1107.4,106.1L1107.4,83.7ZM1100.6,97.1L1102.6,106.6L1107.5,105.6L1105.4,96.0ZM1104.6,96.0L1102.6,105.6L1107.5,106.6L1109.5,97.1Z"/>
<path fill="#0070ff" d="M1167.4,83.6L1166.3,106.0L1171.1,106.2L1172.2,83.8ZM1164.8,96.8L1166.3,106.5L1171.2,105.7L1169.6,96.1ZM1168.7,96.0L1166.3,105.5L1171.2,106.7L1173.7,97.3Z"/>
<path fill="#0070ff" d="M1232.1,83.4L1229.4,105.7L1234.3,106.3L1237.0,84.0ZM1228.6,96.5L1229.4,106.2L1234.2,105.8L1233.4,96.1ZM1232.5,95.9L1229.4,105.2L1234.3,106.9L1237.5,97.6Z"/>
<path fill="#0070ff" d="M1296.9,83.3L1293.2,105.6L1298.1,106.4L1301.7,84.1ZM1292.8,96.3L1293.2,106.1L1298.0,105.9L1297.6,96.1ZM1296.7,95.8L1293.1,105.0L1298.1,106.9L1301.7,97.8Z"/>
<path fill="#0060ff" d="M1361.6,83.2L1357.0,104.6L1361.9,105.7L1366.5,84.2ZM1357.1,95.5L1357.0,105.2L1361.8,105.2L1361.9,95.6ZM1360.9,95.3L1357.0,104.1L1361.9,106.3L1365.9,97.5Z"/>
<path fill="#0060ff" d="M1426.4,83.0L1420.5,103.2L1425.5,104.7L1431.3,84.4ZM1421.3,94.5L1420.6,103.8L1425.4,104.1L1426.1,94.8ZM1424.9,94.4L1420.5,102.6L1425.5,105.3L1429.9,97.0Z"/>
<path fill="#0040ff" d="M1491.1,82.7L1484.4,100.2L1489.4,102.1L1496.1,84.7ZM1485.9,92.3L1484.5,100.8L1489.4,101.6L1490.7,93.1ZM1489.2,92.4L1484.5,99.6L1489.4,102.8L1494.0,95.5Z"/>
<path fill="#0050ff" d="M1555.9,82.7L1548.8,100.7L1553.8,102.7L1560.9,84.7ZM1550.4,92.6L1548.9,101.3L1553.8,102.1L1555.2,93.4ZM1553.7,92.7L1548.9,100.1L1553.8,103.3L1558.6,95.9Z"/>
<path fill="#0040ff" d="M1620.7,82.4L1612.5,98.4L1617.5,100.9L1625.7,85.0ZM1614.7,91.0L1612.5,99.0L1617.4,100.3L1619.6,92.3ZM1617.9,91.3L1612.7,97.8L1617.3,101.5L1622.5,95.1Z"/>
<path fill="#0030ff" d="M1685.5,82.3L1677.0,97.5L1681.9,100.3L1690.4,85.1ZM1679.4,90.3L1677.0,98.1L1681.9,99.7L1684.4,91.9ZM1682.6,90.8L1677.2,96.9L1681.7,100.9L1687.1,94.7Z"/>
<path fill="#0030ff" d="M1750.3,82.1L1740.9,96.1L1745.8,99.3L1755.1,85.3ZM1743.8,89.3L1740.9,96.7L1745.8,98.7L1748.8,91.3ZM1747.0,90.0L1741.3,95.6L1745.4,99.8L1751.1,94.3Z"/>
<path fill="#0030ff" d="M1815.1,82.1L1806.1,95.4L1810.9,98.6L1819.9,85.3ZM1808.9,88.8L1806.0,96.0L1811.0,98.0L1813.9,90.9ZM1811.9,89.5L1806.4,94.8L1810.6,99.1L1816.1,93.8Z"/>
<path fill="#0020ff" d="M1879.8,82.1L1871.5,94.3L1876.4,97.6L1884.7,85.3ZM1874.2,88.2L1871.5,94.9L1876.4,97.0L1879.2,90.2ZM1877.1,88.7L1871.9,93.8L1876.0,98.1L1881.3,93.0Z"/>
<path fill="#0010ff" d="M1944.7,81.8L1936.2,92.2L1940.8,96.0L1949.3,85.6ZM1939.2,86.7L1936.0,92.8L1941.0,95.4L1944.2,89.3ZM1942.0,87.5L1936.6,91.8L1940.3,96.4L1945.7,92.1Z"/>
</g>
<rect x="1911" y="70" width="51" height="9" fill="#000"/>
<g fill="#000" shape-rendering="crispEdges">
<rect x="241" y="70" width="3" height="879"/>
<rect x="241" y="946" width="1721" height="3"/>
<rect x="241.0" y="947" width="3" height="17"/>
<rect x="375.8" y="947" width="3" height="17"/>
<rect x="510.6" y="947" width="3" height="17"/>
<rect x="645.5" y="947" width="3" height="17"/>
<rect x="780.3" y="947" width="3" height="17"/>
<rect x="915.1" y="947" width="3" height="17"/>
<rect x="1049.9" y="947" width="3" height="17"/>
<rect x="1184.7" y="947" width="3" height="17"/>
<rect x="1319.6" y="947" width="3" height="17"/>
<rect x="1454.4" y="947" width="3" height="17"/>
<rect x="1589.2" y="947" width="3" height="17"/>
<rect x="1724.0" y="947" width="3" height="17"/>
<rect x="1858.8" y="947" width="3" height="17"/>
<rect x="225" y="946.0" width="17" height="3"/>
<rect x="225" y="811.2" width="17" height="3"/>
<rect x="225" y="676.4" width="17" height="3"/>
<rect x="225" y="541.5" width="17" height="3"/>
<rect x="225" y="406.7" width="17" height="3"/>
<rect x="225" y="271.9" width="17" height="3"/>
<rect x="225" y="137.1" width="17" height="3"/>
</g>
<text transform="translate(242.5,1038.0) scale(1,1.05)" text-anchor="middle">0</text>
<text transform="translate(377.3,1038.0) scale(1,1.05)" text-anchor="middle">0.2</text>
<text transform="translate(512.1,1038.0) scale(1,1.05)" text-anchor="middle">0.4</text>
<text transform="translate(647.0,1038.0) scale(1,1.05)" text-anchor="middle">0.6</text>
<text transform="translate(781.8,1038.0) scale(1,1.05)" text-anchor="middle">0.8</text>
<text transform="translate(916.6,1038.0) scale(1,1.05)" text-anchor="middle">1</text>
<text transform="translate(1051.4,1038.0) scale(1,1.05)" text-anchor="middle">1.2</text>
<text transform="translate(1186.2,1038.0) scale(1,1.05)" text-anchor="middle">1.4</text>
<text transform="translate(1321.1,1038.0) scale(1,1.05)" text-anchor="middle">1.6</text>
<text transform="translate(1455.9,1038.0) scale(1,1.05)" text-anchor="middle">1.8</text>
<text transform="translate(1590.7,1038.0) scale(1,1.05)" text-anchor="middle">2</text>
<text transform="translate(1725.5,1038.0) scale(1,1.05)" text-anchor="middle">2.2</text>
<text transform="translate(1860.3,1038.0) scale(1,1.05)" text-anchor="middle">2.4</text>
<text transform="translate(208.0,969.2) scale(1,1.05)" text-anchor="end">0</text>
<text transform="translate(208.0,834.4) scale(1,1.05)" text-anchor="end">0.2</text>
<text transform="translate(208.0,699.6) scale(1,1.05)" text-anchor="end">0.4</text>
<text transform="translate(208.0,564.7) scale(1,1.05)" text-anchor="end">0.6</text>
<text transform="translate(208.0,429.9) scale(1,1.05)" text-anchor="end">0.8</text>
<text transform="translate(208.0,295.1) scale(1,1.05)" text-anchor="end">1</text>
<text transform="translate(208.0,160.3) scale(1,1.05)" text-anchor="end">1.2</text>
<text transform="translate(1103.0,1109.8) scale(1,1.05)" text-anchor="middle" letter-spacing="0.3">X−Position [mm]</text>
<text transform="translate(83.6,506.8) rotate(-90) scale(1,1.05)" text-anchor="middle" letter-spacing="0.42">Y−Position [mm]</text>
<text transform="translate(1861.0,57.9) scale(1,1.05)" text-anchor="start">15 m/s</text>
<g shape-rendering="crispEdges">
<rect x="2066" y="933.52" width="121" height="14.28" fill="#00008f"/>
<rect x="2066" y="919.84" width="121" height="14.28" fill="#00009f"/>
<rect x="2066" y="906.16" width="121" height="14.28" fill="#0000af"/>
<rect x="2066" y="892.48" width="121" height="14.28" fill="#0000bf"/>
<rect x="2066" y="878.79" width="121" height="14.28" fill="#0000cf"/>
<rect x="2066" y="865.11" width="121" height="14.28" fill="#0000df"/>
<rect x="2066" y="851.43" width="121" height="14.28" fill="#0000ef"/>
<rect x="2066" y="837.75" width="121" height="14.28" fill="#0000ff"/>
<rect x="2066" y="824.07" width="121" height="14.28" fill="#0010ff"/>
<rect x="2066" y="810.39" width="121" height="14.28" fill="#0020ff"/>
<rect x="2066" y="796.71" width="121" height="14.28" fill="#0030ff"/>
<rect x="2066" y="783.03" width="121" height="14.28" fill="#0040ff"/>
<rect x="2066" y="769.34" width="121" height="14.28" fill="#0050ff"/>
<rect x="2066" y="755.66" width="121" height="14.28" fill="#0060ff"/>
<rect x="2066" y="741.98" width="121" height="14.28" fill="#0070ff"/>
<rect x="2066" y="728.30" width="121" height="14.28" fill="#0080ff"/>
<rect x="2066" y="714.62" width="121" height="14.28" fill="#008fff"/>
<rect x="2066" y="700.94" width="121" height="14.28" fill="#009fff"/>
<rect x="2066" y="687.26" width="121" height="14.28" fill="#00afff"/>
<rect x="2066" y="673.58" width="121" height="14.28" fill="#00bfff"/>
<rect x="2066" y="659.89" width="121" height="14.28" fill="#00cfff"/>
<rect x="2066" y="646.21" width="121" height="14.28" fill="#00dfff"/>
<rect x="2066" y="632.53" width="121" height="14.28" fill="#00efff"/>
<rect x="2066" y="618.85" width="121" height="14.28" fill="#00ffff"/>
<rect x="2066" y="605.17" width="121" height="14.28" fill="#10ffef"/>
<rect x="2066" y="591.49" width="121" height="14.28" fill="#20ffdf"/>
<rect x="2066" y="577.81" width="121" height="14.28" fill="#30ffcf"/>
<rect x="2066" y="564.12" width="121" height="14.28" fill="#40ffbf"/>
<rect x="2066" y="550.44" width="121" height="14.28" fill="#50ffaf"/>
<rect x="2066" y="536.76" width="121" height="14.28" fill="#60ff9f"/>
<rect x="2066" y="523.08" width="121" height="14.28" fill="#70ff8f"/>
<rect x="2066" y="509.40" width="121" height="14.28" fill="#80ff80"/>
<rect x="2066" y="495.72" width="121" height="14.28" fill="#8fff70"/>
<rect x="2066" y="482.04" width="121" height="14.28" fill="#9fff60"/>
<rect x="2066" y="468.36" width="121" height="14.28" fill="#afff50"/>
<rect x="2066" y="454.68" width="121" height="14.28" fill="#bfff40"/>
<rect x="2066" y="440.99" width="121" height="14.28" fill="#cfff30"/>
<rect x="2066" y="427.31" width="121" height="14.28" fill="#dfff20"/>
<rect x="2066" y="413.63" width="121" height="14.28" fill="#efff10"/>
<rect x="2066" y="399.95" width="121" height="14.28" fill="#ffff00"/>
<rect x="2066" y="386.27" width="121" height="14.28" fill="#ffef00"/>
<rect x="2066" y="372.59" width="121" height="14.28" fill="#ffdf00"/>
<rect x="2066" y="358.91" width="121" height="14.28" fill="#ffcf00"/>
<rect x="2066" y="345.23" width="121" height="14.28" fill="#ffbf00"/>
<rect x="2066" y="331.54" width="121" height="14.28" fill="#ffaf00"/>
<rect x="2066" y="317.86" width="121" height="14.28" fill="#ff9f00"/>
<rect x="2066" y="304.18" width="121" height="14.28" fill="#ff8f00"/>
<rect x="2066" y="290.50" width="121" height="14.28" fill="#ff8000"/>
<rect x="2066" y="276.82" width="121" height="14.28" fill="#ff7000"/>
<rect x="2066" y="263.14" width="121" height="14.28" fill="#ff6000"/>
<rect x="2066" y="249.46" width="121" height="14.28" fill="#ff5000"/>
<rect x="2066" y="235.77" width="121" height="14.28" fill="#ff4000"/>
<rect x="2066" y="222.09" width="121" height="14.28" fill="#ff3000"/>
<rect x="2066" y="208.41" width="121" height="14.28" fill="#ff2000"/>
<rect x="2066" y="194.73" width="121" height="14.28" fill="#ff1000"/>
<rect x="2066" y="181.05" width="121" height="14.28" fill="#ff0000"/>
<rect x="2066" y="167.37" width="121" height="14.28" fill="#ef0000"/>
<rect x="2066" y="153.69" width="121" height="14.28" fill="#df0000"/>
<rect x="2066" y="140.01" width="121" height="14.28" fill="#cf0000"/>
<rect x="2066" y="126.33" width="121" height="14.28" fill="#bf0000"/>
<rect x="2066" y="112.64" width="121" height="14.28" fill="#af0000"/>
<rect x="2066" y="98.96" width="121" height="14.28" fill="#9f0000"/>
<rect x="2066" y="85.28" width="121" height="14.28" fill="#8f0000"/>
<rect x="2066" y="71.60" width="121" height="14.28" fill="#800000"/>
<rect x="2065.75" y="69.75" width="121.5" height="879.5" fill="none" stroke="#000" stroke-width="3.5"/>
<rect x="2066" y="801.0" width="9" height="3" fill="#000"/>
<rect x="2178" y="801.0" width="9" height="3" fill="#000"/>
<rect x="2066" y="654.5" width="9" height="3" fill="#000"/>
<rect x="2178" y="654.5" width="9" height="3" fill="#000"/>
<rect x="2066" y="508.0" width="9" height="3" fill="#000"/>
<rect x="2178" y="508.0" width="9" height="3" fill="#000"/>
<rect x="2066" y="361.5" width="9" height="3" fill="#000"/>
<rect x="2178" y="361.5" width="9" height="3" fill="#000"/>
<rect x="2066" y="215.0" width="9" height="3" fill="#000"/>
<rect x="2178" y="215.0" width="9" height="3" fill="#000"/>
</g>
<text transform="translate(2203.0,970.7) scale(1,1.05)" text-anchor="start">0</text>
<text transform="translate(2203.0,824.2) scale(1,1.05)" text-anchor="start">5</text>
<text transform="translate(2203.0,677.7) scale(1,1.05)" text-anchor="start">10</text>
<text transform="translate(2203.0,531.2) scale(1,1.05)" text-anchor="start">15</text>
<text transform="translate(2203.0,384.7) scale(1,1.05)" text-anchor="start">20</text>
<text transform="translate(2203.0,238.2) scale(1,1.05)" text-anchor="start">25</text>
<text transform="translate(2203.0,91.7) scale(1,1.05)" text-anchor="start">30</text>
<text transform="translate(2147.6,1036.5) scale(1,1.05)" text-anchor="middle">[m/s]</text>
</svg></body></html>
